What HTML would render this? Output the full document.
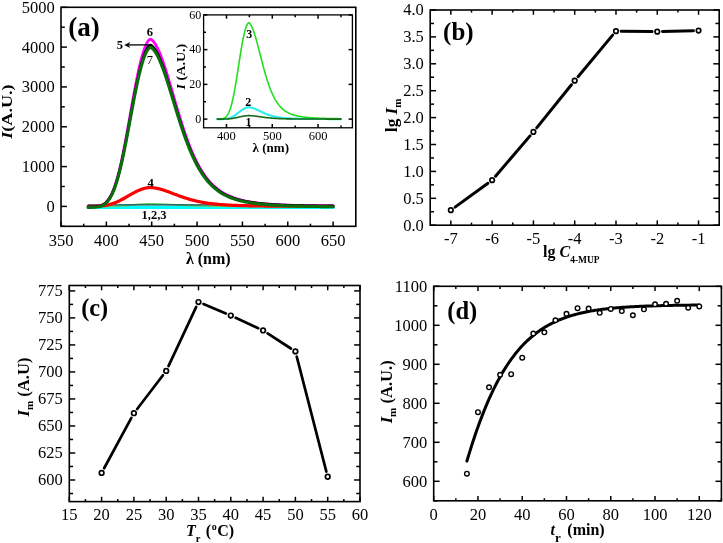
<!DOCTYPE html>
<html><head><meta charset="utf-8"><style>
html,body{margin:0;padding:0;background:#fff;}
svg{display:block;will-change:transform;font-family:"Liberation Serif",serif;}
</style></head><body>
<svg width="723" height="543" viewBox="0 0 723 543">
<rect width="723" height="543" fill="#fff"/>
<polyline points="88.21,207.4 88.66,207.4 89.11,207.4 89.56,207.4 90.01,207.4 90.46,207.4 90.91,207.4 91.36,207.4 91.81,207.4 92.26,207.4 92.72,207.4 93.17,207.4 93.62,207.4 94.07,207.4 94.52,207.4 94.97,207.4 95.42,207.4 95.87,207.4 96.32,207.4 96.77,207.4 97.22,207.4 97.67,207.4 98.12,207.4 98.57,207.4 99.02,207.4 99.47,207.4 99.92,207.4 100.37,207.4 100.82,207.4 101.27,207.4 101.72,207.4 102.17,207.4 102.62,207.4 103.07,207.4 103.52,207.4 103.97,207.4 104.42,207.4 104.87,207.4 105.32,207.4 105.77,207.4 106.22,207.4 106.67,207.4 107.12,207.4 107.57,207.4 108.02,207.4 108.47,207.4 108.92,207.4 109.38,207.4 109.83,207.4 110.28,207.4 110.73,207.4 111.18,207.4 111.63,207.4 112.08,207.4 112.53,207.4 112.98,207.4 113.43,207.4 113.88,207.4 114.33,207.4 114.78,207.4 115.23,207.4 115.68,207.4 116.13,207.4 116.58,207.4 117.03,207.4 117.48,207.4 117.93,207.4 118.38,207.4 118.83,207.4 119.28,207.4 119.73,207.4 120.18,207.4 120.63,207.4 121.08,207.4 121.53,207.4 121.98,207.4 122.43,207.4 122.88,207.4 123.33,207.4 123.78,207.4 124.23,207.4 124.68,207.4 125.13,207.4 125.59,207.4 126.04,207.4 126.49,207.4 126.94,207.4 127.39,207.4 127.84,207.4 128.29,207.4 128.74,207.4 129.19,207.4 129.64,207.4 130.09,207.4 130.54,207.4 130.99,207.4 131.44,207.4 131.89,207.4 132.34,207.4 132.79,207.4 133.24,207.4 133.69,207.4 134.14,207.4 134.59,207.4 135.04,207.4 135.49,207.4 135.94,207.4 136.39,207.4 136.84,207.4 137.29,207.4 137.74,207.4 138.19,207.4 138.64,207.4 139.09,207.4 139.54,207.4 139.99,207.4 140.44,207.4 140.89,207.4 141.34,207.4 141.8,207.4 142.25,207.4 142.7,207.4 143.15,207.4 143.6,207.4 144.05,207.4 144.5,207.4 144.95,207.4 145.4,207.4 145.85,207.4 146.3,207.4 146.75,207.4 147.2,207.4 147.65,207.4 148.1,207.4 148.55,207.4 149,207.4 149.45,207.4 149.9,207.4 150.35,207.4 150.8,207.4 151.41,207.4 152.02,207.4 152.63,207.4 153.24,207.4 153.85,207.4 154.46,207.4 155.07,207.4 155.68,207.4 156.29,207.4 156.9,207.4 157.51,207.4 158.12,207.4 158.73,207.4 159.34,207.4 159.95,207.4 160.56,207.4 161.17,207.4 161.78,207.4 162.39,207.4 163,207.4 163.61,207.4 164.22,207.4 164.83,207.4 165.44,207.4 166.04,207.4 166.65,207.4 167.26,207.4 167.87,207.4 168.48,207.4 169.09,207.4 169.7,207.4 170.31,207.4 170.92,207.4 171.53,207.4 172.14,207.4 172.75,207.4 173.36,207.4 173.97,207.4 174.58,207.4 175.19,207.4 175.8,207.4 176.41,207.4 177.02,207.4 177.63,207.4 178.24,207.4 178.85,207.4 179.46,207.4 180.07,207.4 180.68,207.4 181.29,207.4 181.9,207.4 182.51,207.4 183.12,207.4 183.73,207.4 184.34,207.4 184.95,207.4 185.56,207.4 186.17,207.4 186.78,207.4 187.39,207.4 188,207.4 188.61,207.4 189.22,207.4 189.83,207.4 190.44,207.4 191.05,207.4 191.66,207.4 192.27,207.4 192.88,207.4 193.48,207.4 194.09,207.4 194.7,207.4 195.31,207.4 195.92,207.4 196.53,207.4 197.14,207.4 197.75,207.4 198.36,207.4 198.97,207.4 199.58,207.4 200.19,207.4 200.8,207.4 201.41,207.4 202.02,207.4 202.63,207.4 203.24,207.4 203.85,207.4 204.46,207.4 205.07,207.4 205.68,207.4 206.29,207.4 206.9,207.4 207.51,207.4 208.12,207.4 208.73,207.4 209.34,207.4 209.95,207.4 210.56,207.4 211.17,207.4 211.78,207.4 212.39,207.4 213,207.4 213.61,207.4 214.22,207.4 214.83,207.4 215.44,207.4 216.05,207.4 216.66,207.4 217.27,207.4 217.88,207.4 218.49,207.4 219.1,207.4 219.71,207.4 220.31,207.4 220.92,207.4 221.53,207.4 222.14,207.4 222.75,207.4 223.36,207.4 223.97,207.4 224.58,207.4 225.19,207.4 225.8,207.4 226.41,207.4 227.02,207.4 227.63,207.4 228.24,207.4 228.85,207.4 229.46,207.4 230.07,207.4 230.68,207.4 231.29,207.4 231.9,207.4 232.51,207.4 233.12,207.4 233.73,207.4 234.34,207.4 234.95,207.4 235.56,207.4 236.17,207.4 236.78,207.4 237.39,207.4 238,207.4 238.61,207.4 239.22,207.4 239.83,207.4 240.44,207.4 241.05,207.4 241.66,207.4 242.27,207.4 242.88,207.4 243.49,207.4 244.1,207.4 244.71,207.4 245.32,207.4 245.93,207.4 246.54,207.4 247.14,207.4 247.75,207.4 248.36,207.4 248.97,207.4 249.58,207.4 250.19,207.4 250.8,207.4 251.41,207.4 252.02,207.4 252.63,207.4 253.24,207.4 253.85,207.4 254.46,207.4 255.07,207.4 255.68,207.4 256.29,207.4 256.9,207.4 257.51,207.4 258.12,207.4 258.73,207.4 259.34,207.4 259.95,207.4 260.56,207.4 261.17,207.4 261.78,207.4 262.39,207.4 263,207.4 263.61,207.4 264.22,207.4 264.83,207.4 265.44,207.4 266.05,207.4 266.66,207.4 267.27,207.4 267.88,207.4 268.49,207.4 269.1,207.4 269.71,207.4 270.32,207.4 270.93,207.4 271.54,207.4 272.15,207.4 272.76,207.4 273.37,207.4 273.97,207.4 274.58,207.4 275.19,207.4 275.8,207.4 276.41,207.4 277.02,207.4 277.63,207.4 278.24,207.4 278.85,207.4 279.46,207.4 280.07,207.4 280.68,207.4 281.29,207.4 281.9,207.4 282.51,207.4 283.12,207.4 283.73,207.4 284.34,207.4 284.95,207.4 285.56,207.4 286.17,207.4 286.78,207.4 287.39,207.4 288,207.4 288.61,207.4 289.22,207.4 289.83,207.4 290.44,207.4 291.05,207.4 291.66,207.4 292.27,207.4 292.88,207.4 293.49,207.4 294.1,207.4 294.71,207.4 295.32,207.4 295.93,207.4 296.54,207.4 297.15,207.4 297.76,207.4 298.37,207.4 298.98,207.4 299.59,207.4 300.2,207.4 300.81,207.4 301.41,207.4 302.02,207.4 302.63,207.4 303.24,207.4 303.85,207.4 304.46,207.4 305.07,207.4 305.68,207.4 306.29,207.4 306.9,207.4 307.51,207.4 308.12,207.4 308.73,207.4 309.34,207.4 309.95,207.4 310.56,207.4 311.17,207.4 311.78,207.4 312.39,207.4 313,207.4 313.61,207.4 314.22,207.4 314.83,207.4 315.44,207.4 316.05,207.4 316.66,207.4 317.27,207.4 317.88,207.4 318.49,207.4 319.1,207.4 319.71,207.4 320.32,207.4 320.93,207.4 321.54,207.4 322.15,207.4 322.76,207.4 323.37,207.4 323.98,207.4 324.59,207.4 325.2,207.4 325.81,207.4 326.42,207.4 327.03,207.4 327.64,207.4 328.24,207.4 328.85,207.4 329.46,207.4 330.07,207.4 330.68,207.4 331.29,207.4 331.9,207.4 332.51,207.4 333.12,207.4" fill="none" stroke="#00ffff" stroke-width="3.4" stroke-linejoin="round" stroke-linecap="round" />
<polyline points="88.21,206.52 88.66,206.52 89.11,206.52 89.56,206.52 90.01,206.52 90.46,206.52 90.91,206.52 91.36,206.52 91.81,206.52 92.26,206.52 92.72,206.52 93.17,206.52 93.62,206.52 94.07,206.52 94.52,206.52 94.97,206.52 95.42,206.52 95.87,206.51 96.32,206.51 96.77,206.51 97.22,206.51 97.67,206.51 98.12,206.51 98.57,206.51 99.02,206.51 99.47,206.5 99.92,206.5 100.37,206.5 100.82,206.5 101.27,206.5 101.72,206.49 102.17,206.49 102.62,206.49 103.07,206.48 103.52,206.48 103.97,206.47 104.42,206.47 104.87,206.46 105.32,206.46 105.77,206.45 106.22,206.44 106.67,206.44 107.12,206.43 107.57,206.42 108.02,206.41 108.47,206.4 108.92,206.39 109.38,206.38 109.83,206.37 110.28,206.35 110.73,206.34 111.18,206.33 111.63,206.31 112.08,206.3 112.53,206.28 112.98,206.26 113.43,206.24 113.88,206.23 114.33,206.21 114.78,206.19 115.23,206.16 115.68,206.14 116.13,206.12 116.58,206.09 117.03,206.07 117.48,206.04 117.93,206.02 118.38,205.99 118.83,205.96 119.28,205.93 119.73,205.9 120.18,205.87 120.63,205.84 121.08,205.81 121.53,205.77 121.98,205.74 122.43,205.71 122.88,205.67 123.33,205.63 123.78,205.6 124.23,205.56 124.68,205.52 125.13,205.49 125.59,205.45 126.04,205.41 126.49,205.37 126.94,205.33 127.39,205.29 127.84,205.25 128.29,205.21 128.74,205.17 129.19,205.12 129.64,205.08 130.09,205.04 130.54,205 130.99,204.96 131.44,204.92 131.89,204.88 132.34,204.84 132.79,204.8 133.24,204.76 133.69,204.72 134.14,204.68 134.59,204.64 135.04,204.6 135.49,204.56 135.94,204.52 136.39,204.49 136.84,204.45 137.29,204.41 137.74,204.38 138.19,204.35 138.64,204.31 139.09,204.28 139.54,204.25 139.99,204.22 140.44,204.19 140.89,204.16 141.34,204.13 141.8,204.1 142.25,204.08 142.7,204.05 143.15,204.03 143.6,204.01 144.05,203.98 144.5,203.96 144.95,203.94 145.4,203.93 145.85,203.91 146.3,203.89 146.75,203.88 147.2,203.87 147.65,203.85 148.1,203.84 148.55,203.83 149,203.83 149.45,203.82 149.9,203.82 150.35,203.81 150.8,203.81 151.41,203.82 152.02,203.83 152.63,203.84 153.24,203.85 153.85,203.86 154.46,203.87 155.07,203.89 155.68,203.9 156.29,203.92 156.9,203.94 157.51,203.96 158.12,203.98 158.73,204 159.34,204.02 159.95,204.04 160.56,204.07 161.17,204.09 161.78,204.12 162.39,204.15 163,204.18 163.61,204.2 164.22,204.23 164.83,204.26 165.44,204.29 166.04,204.32 166.65,204.36 167.26,204.39 167.87,204.42 168.48,204.45 169.09,204.49 169.7,204.52 170.31,204.55 170.92,204.59 171.53,204.62 172.14,204.65 172.75,204.69 173.36,204.72 173.97,204.76 174.58,204.79 175.19,204.82 175.8,204.86 176.41,204.89 177.02,204.92 177.63,204.96 178.24,204.99 178.85,205.02 179.46,205.05 180.07,205.09 180.68,205.12 181.29,205.15 181.9,205.18 182.51,205.21 183.12,205.24 183.73,205.27 184.34,205.3 184.95,205.33 185.56,205.36 186.17,205.39 186.78,205.41 187.39,205.44 188,205.47 188.61,205.49 189.22,205.52 189.83,205.55 190.44,205.57 191.05,205.59 191.66,205.62 192.27,205.64 192.88,205.66 193.48,205.69 194.09,205.71 194.7,205.73 195.31,205.75 195.92,205.77 196.53,205.79 197.14,205.81 197.75,205.83 198.36,205.85 198.97,205.86 199.58,205.88 200.19,205.9 200.8,205.92 201.41,205.93 202.02,205.95 202.63,205.96 203.24,205.98 203.85,205.99 204.46,206.01 205.07,206.02 205.68,206.03 206.29,206.05 206.9,206.06 207.51,206.07 208.12,206.09 208.73,206.1 209.34,206.11 209.95,206.12 210.56,206.13 211.17,206.14 211.78,206.15 212.39,206.16 213,206.17 213.61,206.18 214.22,206.19 214.83,206.2 215.44,206.21 216.05,206.21 216.66,206.22 217.27,206.23 217.88,206.24 218.49,206.25 219.1,206.25 219.71,206.26 220.31,206.27 220.92,206.27 221.53,206.28 222.14,206.29 222.75,206.29 223.36,206.3 223.97,206.3 224.58,206.31 225.19,206.31 225.8,206.32 226.41,206.32 227.02,206.33 227.63,206.33 228.24,206.34 228.85,206.34 229.46,206.35 230.07,206.35 230.68,206.36 231.29,206.36 231.9,206.36 232.51,206.37 233.12,206.37 233.73,206.37 234.34,206.38 234.95,206.38 235.56,206.38 236.17,206.39 236.78,206.39 237.39,206.39 238,206.4 238.61,206.4 239.22,206.4 239.83,206.41 240.44,206.41 241.05,206.41 241.66,206.41 242.27,206.42 242.88,206.42 243.49,206.42 244.1,206.42 244.71,206.42 245.32,206.43 245.93,206.43 246.54,206.43 247.14,206.43 247.75,206.43 248.36,206.44 248.97,206.44 249.58,206.44 250.19,206.44 250.8,206.44 251.41,206.44 252.02,206.45 252.63,206.45 253.24,206.45 253.85,206.45 254.46,206.45 255.07,206.45 255.68,206.45 256.29,206.46 256.9,206.46 257.51,206.46 258.12,206.46 258.73,206.46 259.34,206.46 259.95,206.46 260.56,206.46 261.17,206.46 261.78,206.47 262.39,206.47 263,206.47 263.61,206.47 264.22,206.47 264.83,206.47 265.44,206.47 266.05,206.47 266.66,206.47 267.27,206.47 267.88,206.47 268.49,206.48 269.1,206.48 269.71,206.48 270.32,206.48 270.93,206.48 271.54,206.48 272.15,206.48 272.76,206.48 273.37,206.48 273.97,206.48 274.58,206.48 275.19,206.48 275.8,206.48 276.41,206.48 277.02,206.48 277.63,206.49 278.24,206.49 278.85,206.49 279.46,206.49 280.07,206.49 280.68,206.49 281.29,206.49 281.9,206.49 282.51,206.49 283.12,206.49 283.73,206.49 284.34,206.49 284.95,206.49 285.56,206.49 286.17,206.49 286.78,206.49 287.39,206.49 288,206.49 288.61,206.49 289.22,206.49 289.83,206.49 290.44,206.49 291.05,206.49 291.66,206.5 292.27,206.5 292.88,206.5 293.49,206.5 294.1,206.5 294.71,206.5 295.32,206.5 295.93,206.5 296.54,206.5 297.15,206.5 297.76,206.5 298.37,206.5 298.98,206.5 299.59,206.5 300.2,206.5 300.81,206.5 301.41,206.5 302.02,206.5 302.63,206.5 303.24,206.5 303.85,206.5 304.46,206.5 305.07,206.5 305.68,206.5 306.29,206.5 306.9,206.5 307.51,206.5 308.12,206.5 308.73,206.5 309.34,206.5 309.95,206.5 310.56,206.5 311.17,206.5 311.78,206.5 312.39,206.5 313,206.5 313.61,206.5 314.22,206.5 314.83,206.5 315.44,206.5 316.05,206.5 316.66,206.5 317.27,206.5 317.88,206.51 318.49,206.51 319.1,206.51 319.71,206.51 320.32,206.51 320.93,206.51 321.54,206.51 322.15,206.51 322.76,206.51 323.37,206.51 323.98,206.51 324.59,206.51 325.2,206.51 325.81,206.51 326.42,206.51 327.03,206.51 327.64,206.51 328.24,206.51 328.85,206.51 329.46,206.51 330.07,206.51 330.68,206.51 331.29,206.51 331.9,206.51 332.51,206.51 333.12,206.51" fill="none" stroke="#5fcf5f" stroke-width="1.6" stroke-linejoin="round" stroke-linecap="round" />
<polyline points="88.21,204.93 88.66,204.93 89.11,204.93 89.56,204.93 90.01,204.93 90.46,204.93 90.91,204.93 91.36,204.93 91.81,204.93 92.26,204.93 92.72,204.93 93.17,204.93 93.62,204.93 94.07,204.93 94.52,204.93 94.97,204.93 95.42,204.93 95.87,204.93 96.32,204.93 96.77,204.93 97.22,204.93 97.67,204.93 98.12,204.93 98.57,204.93 99.02,204.93 99.47,204.93 99.92,204.93 100.37,204.93 100.82,204.93 101.27,204.93 101.72,204.93 102.17,204.93 102.62,204.93 103.07,204.93 103.52,204.93 103.97,204.93 104.42,204.93 104.87,204.93 105.32,204.93 105.77,204.93 106.22,204.93 106.67,204.93 107.12,204.93 107.57,204.93 108.02,204.93 108.47,204.93 108.92,204.93 109.38,204.93 109.83,204.93 110.28,204.93 110.73,204.93 111.18,204.93 111.63,204.93 112.08,204.93 112.53,204.93 112.98,204.93 113.43,204.93 113.88,204.93 114.33,204.93 114.78,204.93 115.23,204.93 115.68,204.93 116.13,204.93 116.58,204.93 117.03,204.93 117.48,204.93 117.93,204.93 118.38,204.93 118.83,204.93 119.28,204.93 119.73,204.93 120.18,204.93 120.63,204.93 121.08,204.93 121.53,204.93 121.98,204.93 122.43,204.93 122.88,204.93 123.33,204.93 123.78,204.93 124.23,204.93 124.68,204.93 125.13,204.93 125.59,204.93 126.04,204.93 126.49,204.93 126.94,204.93 127.39,204.93 127.84,204.93 128.29,204.93 128.74,204.93 129.19,204.93 129.64,204.93 130.09,204.93 130.54,204.93 130.99,204.93 131.44,204.93 131.89,204.93 132.34,204.93 132.79,204.93 133.24,204.93 133.69,204.93 134.14,204.93 134.59,204.93 135.04,204.93 135.49,204.93 135.94,204.93 136.39,204.93 136.84,204.93 137.29,204.93 137.74,204.93 138.19,204.93 138.64,204.93 139.09,204.93 139.54,204.93 139.99,204.93 140.44,204.93 140.89,204.93 141.34,204.93 141.8,204.93 142.25,204.93 142.7,204.93 143.15,204.93 143.6,204.93 144.05,204.93 144.5,204.93 144.95,204.93 145.4,204.93 145.85,204.93 146.3,204.93 146.75,204.93 147.2,204.93 147.65,204.93 148.1,204.93 148.55,204.93 149,204.93 149.45,204.93 149.9,204.93 150.35,204.93 150.8,204.93 151.41,204.93 152.02,204.93 152.63,204.93 153.24,204.93 153.85,204.93 154.46,204.93 155.07,204.93 155.68,204.93 156.29,204.93 156.9,204.93 157.51,204.93 158.12,204.93 158.73,204.93 159.34,204.93 159.95,204.93 160.56,204.93 161.17,204.93 161.78,204.93 162.39,204.93 163,204.93 163.61,204.93 164.22,204.93 164.83,204.93 165.44,204.93 166.04,204.93 166.65,204.93 167.26,204.93 167.87,204.93 168.48,204.93 169.09,204.93 169.7,204.93 170.31,204.93 170.92,204.93 171.53,204.93 172.14,204.93 172.75,204.93 173.36,204.93 173.97,204.93 174.58,204.93 175.19,204.93 175.8,204.93 176.41,204.93 177.02,204.93 177.63,204.93 178.24,204.93 178.85,204.93 179.46,204.93 180.07,204.93 180.68,204.93 181.29,204.93 181.9,204.93 182.51,204.93 183.12,204.93 183.73,204.93 184.34,204.93 184.95,204.93 185.56,204.93 186.17,204.93 186.78,204.93 187.39,204.93 188,204.93 188.61,204.93 189.22,204.93 189.83,204.93 190.44,204.93 191.05,204.93 191.66,204.93 192.27,204.93 192.88,204.93 193.48,204.93 194.09,204.93 194.7,204.93 195.31,204.93 195.92,204.93 196.53,204.93 197.14,204.93 197.75,204.93 198.36,204.93 198.97,204.93 199.58,204.93 200.19,204.93 200.8,204.93 201.41,204.93 202.02,204.93 202.63,204.93 203.24,204.93 203.85,204.93 204.46,204.93 205.07,204.93 205.68,204.93 206.29,204.93 206.9,204.93 207.51,204.93 208.12,204.93 208.73,204.93 209.34,204.93 209.95,204.93 210.56,204.93 211.17,204.93 211.78,204.93 212.39,204.93 213,204.93 213.61,204.93 214.22,204.93 214.83,204.93 215.44,204.93 216.05,204.93 216.66,204.93 217.27,204.93 217.88,204.93 218.49,204.93 219.1,204.93 219.71,204.93 220.31,204.93 220.92,204.93 221.53,204.93 222.14,204.93 222.75,204.93 223.36,204.93 223.97,204.93 224.58,204.93 225.19,204.93 225.8,204.93 226.41,204.93 227.02,204.93 227.63,204.93 228.24,204.93 228.85,204.93 229.46,204.93 230.07,204.93 230.68,204.93 231.29,204.93 231.9,204.93 232.51,204.93 233.12,204.93 233.73,204.93 234.34,204.93 234.95,204.93 235.56,204.93 236.17,204.93 236.78,204.93 237.39,204.93 238,204.93 238.61,204.93 239.22,204.93 239.83,204.93 240.44,204.93 241.05,204.93 241.66,204.93 242.27,204.93 242.88,204.93 243.49,204.93 244.1,204.93 244.71,204.93 245.32,204.93 245.93,204.93 246.54,204.93 247.14,204.93 247.75,204.93 248.36,204.93 248.97,204.93 249.58,204.93 250.19,204.93 250.8,204.93 251.41,204.93 252.02,204.93 252.63,204.93 253.24,204.93 253.85,204.93 254.46,204.93 255.07,204.93 255.68,204.93 256.29,204.93 256.9,204.93 257.51,204.93 258.12,204.93 258.73,204.93 259.34,204.93 259.95,204.93 260.56,204.93 261.17,204.93 261.78,204.93 262.39,204.93 263,204.93 263.61,204.93 264.22,204.93 264.83,204.93 265.44,204.93 266.05,204.93 266.66,204.93 267.27,204.93 267.88,204.93 268.49,204.93 269.1,204.93 269.71,204.93 270.32,204.93 270.93,204.93 271.54,204.93 272.15,204.93 272.76,204.93 273.37,204.93 273.97,204.93 274.58,204.93 275.19,204.93 275.8,204.93 276.41,204.93 277.02,204.93 277.63,204.93 278.24,204.93 278.85,204.93 279.46,204.93 280.07,204.93 280.68,204.93 281.29,204.93 281.9,204.93 282.51,204.93 283.12,204.93 283.73,204.93 284.34,204.93 284.95,204.93 285.56,204.93 286.17,204.93 286.78,204.93 287.39,204.93 288,204.93 288.61,204.93 289.22,204.93 289.83,204.93 290.44,204.93 291.05,204.93 291.66,204.93 292.27,204.93 292.88,204.93 293.49,204.93 294.1,204.93 294.71,204.93 295.32,204.93 295.93,204.93 296.54,204.93 297.15,204.93 297.76,204.93 298.37,204.93 298.98,204.93 299.59,204.93 300.2,204.93 300.81,204.93 301.41,204.93 302.02,204.93 302.63,204.93 303.24,204.93 303.85,204.93 304.46,204.93 305.07,204.93 305.68,204.93 306.29,204.93 306.9,204.93 307.51,204.93 308.12,204.93 308.73,204.93 309.34,204.93 309.95,204.93 310.56,204.93 311.17,204.93 311.78,204.93 312.39,204.93 313,204.93 313.61,204.93 314.22,204.93 314.83,204.93 315.44,204.93 316.05,204.93 316.66,204.93 317.27,204.93 317.88,204.93 318.49,204.93 319.1,204.93 319.71,204.93 320.32,204.93 320.93,204.93 321.54,204.93 322.15,204.93 322.76,204.93 323.37,204.93 323.98,204.93 324.59,204.93 325.2,204.93 325.81,204.93 326.42,204.93 327.03,204.93 327.64,204.93 328.24,204.93 328.85,204.93 329.46,204.93 330.07,204.93 330.68,204.93 331.29,204.93 331.9,204.93 332.51,204.93 333.12,204.93" fill="none" stroke="#0d4f55" stroke-width="1.3" stroke-linejoin="round" stroke-linecap="round" />
<polyline points="88.21,206.38 88.66,206.38 89.11,206.38 89.56,206.37 90.01,206.37 90.46,206.37 90.91,206.36 91.36,206.35 91.81,206.35 92.26,206.34 92.72,206.33 93.17,206.32 93.62,206.31 94.07,206.3 94.52,206.29 94.97,206.28 95.42,206.26 95.87,206.25 96.32,206.23 96.77,206.21 97.22,206.19 97.67,206.17 98.12,206.15 98.57,206.12 99.02,206.09 99.47,206.06 99.92,206.03 100.37,205.99 100.82,205.95 101.27,205.91 101.72,205.87 102.17,205.82 102.62,205.77 103.07,205.72 103.52,205.66 103.97,205.6 104.42,205.54 104.87,205.47 105.32,205.4 105.77,205.32 106.22,205.24 106.67,205.16 107.12,205.07 107.57,204.98 108.02,204.88 108.47,204.78 108.92,204.67 109.38,204.56 109.83,204.45 110.28,204.33 110.73,204.2 111.18,204.07 111.63,203.93 112.08,203.79 112.53,203.65 112.98,203.5 113.43,203.34 113.88,203.18 114.33,203.01 114.78,202.84 115.23,202.67 115.68,202.49 116.13,202.3 116.58,202.11 117.03,201.91 117.48,201.71 117.93,201.51 118.38,201.3 118.83,201.09 119.28,200.87 119.73,200.65 120.18,200.42 120.63,200.2 121.08,199.96 121.53,199.73 121.98,199.49 122.43,199.25 122.88,199 123.33,198.75 123.78,198.51 124.23,198.25 124.68,198 125.13,197.74 125.59,197.49 126.04,197.23 126.49,196.97 126.94,196.71 127.39,196.45 127.84,196.18 128.29,195.92 128.74,195.66 129.19,195.4 129.64,195.14 130.09,194.88 130.54,194.62 130.99,194.37 131.44,194.11 131.89,193.86 132.34,193.61 132.79,193.36 133.24,193.11 133.69,192.87 134.14,192.63 134.59,192.39 135.04,192.15 135.49,191.92 135.94,191.7 136.39,191.48 136.84,191.26 137.29,191.04 137.74,190.84 138.19,190.63 138.64,190.43 139.09,190.24 139.54,190.05 139.99,189.87 140.44,189.69 140.89,189.52 141.34,189.35 141.8,189.2 142.25,189.04 142.7,188.9 143.15,188.75 143.6,188.62 144.05,188.49 144.5,188.37 144.95,188.26 145.4,188.15 145.85,188.05 146.3,187.96 146.75,187.87 147.2,187.8 147.65,187.73 148.1,187.67 148.55,187.61 149,187.57 149.45,187.53 149.9,187.51 150.35,187.49 150.8,187.49 151.41,187.53 152.02,187.59 152.63,187.65 153.24,187.72 153.85,187.8 154.46,187.89 155.07,187.99 155.68,188.1 156.29,188.21 156.9,188.34 157.51,188.47 158.12,188.61 158.73,188.75 159.34,188.9 159.95,189.06 160.56,189.23 161.17,189.4 161.78,189.58 162.39,189.76 163,189.95 163.61,190.14 164.22,190.34 164.83,190.54 165.44,190.75 166.04,190.96 166.65,191.17 167.26,191.39 167.87,191.61 168.48,191.83 169.09,192.06 169.7,192.28 170.31,192.51 170.92,192.74 171.53,192.97 172.14,193.2 172.75,193.44 173.36,193.67 173.97,193.9 174.58,194.13 175.19,194.37 175.8,194.6 176.41,194.83 177.02,195.06 177.63,195.29 178.24,195.51 178.85,195.74 179.46,195.96 180.07,196.18 180.68,196.4 181.29,196.62 181.9,196.83 182.51,197.05 183.12,197.26 183.73,197.46 184.34,197.67 184.95,197.87 185.56,198.07 186.17,198.26 186.78,198.46 187.39,198.65 188,198.83 188.61,199.02 189.22,199.2 189.83,199.37 190.44,199.55 191.05,199.72 191.66,199.88 192.27,200.05 192.88,200.21 193.48,200.36 194.09,200.52 194.7,200.67 195.31,200.81 195.92,200.96 196.53,201.1 197.14,201.24 197.75,201.37 198.36,201.5 198.97,201.63 199.58,201.75 200.19,201.88 200.8,202 201.41,202.11 202.02,202.22 202.63,202.33 203.24,202.44 203.85,202.55 204.46,202.65 205.07,202.75 205.68,202.85 206.29,202.94 206.9,203.03 207.51,203.12 208.12,203.21 208.73,203.29 209.34,203.37 209.95,203.46 210.56,203.53 211.17,203.61 211.78,203.68 212.39,203.75 213,203.82 213.61,203.89 214.22,203.96 214.83,204.02 215.44,204.08 216.05,204.14 216.66,204.2 217.27,204.26 217.88,204.32 218.49,204.37 219.1,204.42 219.71,204.47 220.31,204.52 220.92,204.57 221.53,204.62 222.14,204.66 222.75,204.71 223.36,204.75 223.97,204.79 224.58,204.83 225.19,204.87 225.8,204.91 226.41,204.95 227.02,204.98 227.63,205.02 228.24,205.05 228.85,205.09 229.46,205.12 230.07,205.15 230.68,205.18 231.29,205.21 231.9,205.24 232.51,205.27 233.12,205.29 233.73,205.32 234.34,205.35 234.95,205.37 235.56,205.39 236.17,205.42 236.78,205.44 237.39,205.46 238,205.48 238.61,205.51 239.22,205.53 239.83,205.55 240.44,205.57 241.05,205.58 241.66,205.6 242.27,205.62 242.88,205.64 243.49,205.65 244.1,205.67 244.71,205.69 245.32,205.7 245.93,205.72 246.54,205.73 247.14,205.75 247.75,205.76 248.36,205.77 248.97,205.79 249.58,205.8 250.19,205.81 250.8,205.82 251.41,205.84 252.02,205.85 252.63,205.86 253.24,205.87 253.85,205.88 254.46,205.89 255.07,205.9 255.68,205.91 256.29,205.92 256.9,205.93 257.51,205.94 258.12,205.95 258.73,205.96 259.34,205.97 259.95,205.97 260.56,205.98 261.17,205.99 261.78,206 262.39,206 263,206.01 263.61,206.02 264.22,206.03 264.83,206.03 265.44,206.04 266.05,206.05 266.66,206.05 267.27,206.06 267.88,206.06 268.49,206.07 269.1,206.08 269.71,206.08 270.32,206.09 270.93,206.09 271.54,206.1 272.15,206.1 272.76,206.11 273.37,206.11 273.97,206.12 274.58,206.12 275.19,206.13 275.8,206.13 276.41,206.14 277.02,206.14 277.63,206.14 278.24,206.15 278.85,206.15 279.46,206.16 280.07,206.16 280.68,206.16 281.29,206.17 281.9,206.17 282.51,206.17 283.12,206.18 283.73,206.18 284.34,206.18 284.95,206.19 285.56,206.19 286.17,206.19 286.78,206.2 287.39,206.2 288,206.2 288.61,206.21 289.22,206.21 289.83,206.21 290.44,206.21 291.05,206.22 291.66,206.22 292.27,206.22 292.88,206.22 293.49,206.23 294.1,206.23 294.71,206.23 295.32,206.23 295.93,206.24 296.54,206.24 297.15,206.24 297.76,206.24 298.37,206.24 298.98,206.25 299.59,206.25 300.2,206.25 300.81,206.25 301.41,206.25 302.02,206.26 302.63,206.26 303.24,206.26 303.85,206.26 304.46,206.26 305.07,206.26 305.68,206.27 306.29,206.27 306.9,206.27 307.51,206.27 308.12,206.27 308.73,206.27 309.34,206.28 309.95,206.28 310.56,206.28 311.17,206.28 311.78,206.28 312.39,206.28 313,206.28 313.61,206.29 314.22,206.29 314.83,206.29 315.44,206.29 316.05,206.29 316.66,206.29 317.27,206.29 317.88,206.29 318.49,206.3 319.1,206.3 319.71,206.3 320.32,206.3 320.93,206.3 321.54,206.3 322.15,206.3 322.76,206.3 323.37,206.3 323.98,206.3 324.59,206.31 325.2,206.31 325.81,206.31 326.42,206.31 327.03,206.31 327.64,206.31 328.24,206.31 328.85,206.31 329.46,206.31 330.07,206.31 330.68,206.31 331.29,206.32 331.9,206.32 332.51,206.32 333.12,206.32" fill="none" stroke="#ff0000" stroke-width="3.2" stroke-linejoin="round" stroke-linecap="round" />
<polyline points="88.21,206.78 88.66,206.78 89.11,206.78 89.56,206.77 90.01,206.77 90.46,206.76 90.91,206.75 91.36,206.74 91.81,206.73 92.26,206.72 92.72,206.7 93.17,206.68 93.62,206.66 94.07,206.64 94.52,206.61 94.97,206.58 95.42,206.54 95.87,206.5 96.32,206.45 96.77,206.4 97.22,206.33 97.67,206.26 98.12,206.18 98.57,206.1 99.02,206 99.47,205.89 99.92,205.76 100.37,205.63 100.82,205.48 101.27,205.31 101.72,205.12 102.17,204.92 102.62,204.7 103.07,204.46 103.52,204.19 103.97,203.9 104.42,203.59 104.87,203.25 105.32,202.88 105.77,202.48 106.22,202.05 106.67,201.59 107.12,201.1 107.57,200.56 108.02,200 108.47,199.39 108.92,198.74 109.38,198.06 109.83,197.33 110.28,196.55 110.73,195.73 111.18,194.87 111.63,193.96 112.08,192.99 112.53,191.98 112.98,190.92 113.43,189.81 113.88,188.64 114.33,187.42 114.78,186.15 115.23,184.82 115.68,183.45 116.13,182.01 116.58,180.52 117.03,178.98 117.48,177.39 117.93,175.74 118.38,174.03 118.83,172.28 119.28,170.47 119.73,168.61 120.18,166.7 120.63,164.74 121.08,162.73 121.53,160.68 121.98,158.58 122.43,156.44 122.88,154.25 123.33,152.03 123.78,149.77 124.23,147.47 124.68,145.13 125.13,142.77 125.59,140.37 126.04,137.95 126.49,135.5 126.94,133.03 127.39,130.55 127.84,128.04 128.29,125.52 128.74,122.99 129.19,120.45 129.64,117.9 130.09,115.35 130.54,112.8 130.99,110.26 131.44,107.72 131.89,105.19 132.34,102.67 132.79,100.16 133.24,97.67 133.69,95.21 134.14,92.76 134.59,90.34 135.04,87.95 135.49,85.59 135.94,83.27 136.39,80.98 136.84,78.73 137.29,76.52 137.74,74.36 138.19,72.24 138.64,70.18 139.09,68.16 139.54,66.19 139.99,64.28 140.44,62.43 140.89,60.63 141.34,58.9 141.8,57.22 142.25,55.62 142.7,54.07 143.15,52.59 143.6,51.18 144.05,49.84 144.5,48.57 144.95,47.37 145.4,46.25 145.85,45.2 146.3,44.22 146.75,43.32 147.2,42.5 147.65,41.77 148.1,41.11 148.55,40.55 149,40.07 149.45,39.7 149.9,39.42 150.35,39.25 150.8,39.2 151.41,39.61 152.02,40.1 152.63,40.68 153.24,41.35 153.85,42.09 154.46,42.91 155.07,43.81 155.68,44.79 156.29,45.84 156.9,46.97 157.51,48.16 158.12,49.43 158.73,50.76 159.34,52.15 159.95,53.61 160.56,55.12 161.17,56.69 161.78,58.31 162.39,59.99 163,61.71 163.61,63.47 164.22,65.28 164.83,67.13 165.44,69.01 166.04,70.93 166.65,72.88 167.26,74.85 167.87,76.85 168.48,78.87 169.09,80.91 169.7,82.97 170.31,85.04 170.92,87.12 171.53,89.21 172.14,91.31 172.75,93.41 173.36,95.51 173.97,97.61 174.58,99.71 175.19,101.8 175.8,103.89 176.41,105.97 177.02,108.03 177.63,110.08 178.24,112.12 178.85,114.14 179.46,116.14 180.07,118.13 180.68,120.09 181.29,122.04 181.9,123.96 182.51,125.85 183.12,127.73 183.73,129.57 184.34,131.39 184.95,133.18 185.56,134.95 186.17,136.69 186.78,138.4 187.39,140.07 188,141.72 188.61,143.34 189.22,144.93 189.83,146.49 190.44,148.02 191.05,149.52 191.66,150.99 192.27,152.42 192.88,153.83 193.48,155.21 194.09,156.55 194.7,157.87 195.31,159.15 195.92,160.41 196.53,161.64 197.14,162.84 197.75,164.01 198.36,165.15 198.97,166.26 199.58,167.35 200.19,168.41 200.8,169.44 201.41,170.45 202.02,171.43 202.63,172.38 203.24,173.31 203.85,174.22 204.46,175.1 205.07,175.95 205.68,176.79 206.29,177.6 206.9,178.39 207.51,179.16 208.12,179.91 208.73,180.63 209.34,181.34 209.95,182.03 210.56,182.69 211.17,183.34 211.78,183.97 212.39,184.59 213,185.18 213.61,185.76 214.22,186.32 214.83,186.87 215.44,187.4 216.05,187.91 216.66,188.41 217.27,188.9 217.88,189.37 218.49,189.83 219.1,190.28 219.71,190.71 220.31,191.13 220.92,191.53 221.53,191.93 222.14,192.31 222.75,192.69 223.36,193.05 223.97,193.4 224.58,193.74 225.19,194.08 225.8,194.4 226.41,194.71 227.02,195.01 227.63,195.31 228.24,195.59 228.85,195.87 229.46,196.14 230.07,196.41 230.68,196.66 231.29,196.91 231.9,197.15 232.51,197.38 233.12,197.61 233.73,197.83 234.34,198.04 234.95,198.25 235.56,198.45 236.17,198.65 236.78,198.84 237.39,199.03 238,199.21 238.61,199.38 239.22,199.55 239.83,199.72 240.44,199.88 241.05,200.04 241.66,200.19 242.27,200.34 242.88,200.48 243.49,200.62 244.1,200.76 244.71,200.89 245.32,201.02 245.93,201.14 246.54,201.27 247.14,201.38 247.75,201.5 248.36,201.61 248.97,201.72 249.58,201.83 250.19,201.93 250.8,202.03 251.41,202.13 252.02,202.23 252.63,202.32 253.24,202.41 253.85,202.5 254.46,202.59 255.07,202.67 255.68,202.75 256.29,202.83 256.9,202.91 257.51,202.98 258.12,203.06 258.73,203.13 259.34,203.2 259.95,203.27 260.56,203.34 261.17,203.4 261.78,203.46 262.39,203.53 263,203.59 263.61,203.65 264.22,203.7 264.83,203.76 265.44,203.81 266.05,203.87 266.66,203.92 267.27,203.97 267.88,204.02 268.49,204.07 269.1,204.12 269.71,204.16 270.32,204.21 270.93,204.25 271.54,204.3 272.15,204.34 272.76,204.38 273.37,204.42 273.97,204.46 274.58,204.5 275.19,204.53 275.8,204.57 276.41,204.61 277.02,204.64 277.63,204.68 278.24,204.71 278.85,204.74 279.46,204.78 280.07,204.81 280.68,204.84 281.29,204.87 281.9,204.9 282.51,204.93 283.12,204.96 283.73,204.98 284.34,205.01 284.95,205.04 285.56,205.06 286.17,205.09 286.78,205.11 287.39,205.14 288,205.16 288.61,205.18 289.22,205.21 289.83,205.23 290.44,205.25 291.05,205.27 291.66,205.29 292.27,205.32 292.88,205.34 293.49,205.36 294.1,205.38 294.71,205.39 295.32,205.41 295.93,205.43 296.54,205.45 297.15,205.47 297.76,205.48 298.37,205.5 298.98,205.52 299.59,205.53 300.2,205.55 300.81,205.57 301.41,205.58 302.02,205.6 302.63,205.61 303.24,205.63 303.85,205.64 304.46,205.66 305.07,205.67 305.68,205.68 306.29,205.7 306.9,205.71 307.51,205.72 308.12,205.74 308.73,205.75 309.34,205.76 309.95,205.77 310.56,205.78 311.17,205.8 311.78,205.81 312.39,205.82 313,205.83 313.61,205.84 314.22,205.85 314.83,205.86 315.44,205.87 316.05,205.88 316.66,205.89 317.27,205.9 317.88,205.91 318.49,205.92 319.1,205.93 319.71,205.94 320.32,205.95 320.93,205.96 321.54,205.97 322.15,205.98 322.76,205.98 323.37,205.99 323.98,206 324.59,206.01 325.2,206.02 325.81,206.02 326.42,206.03 327.03,206.04 327.64,206.05 328.24,206.05 328.85,206.06 329.46,206.07 330.07,206.08 330.68,206.08 331.29,206.09 331.9,206.1 332.51,206.1 333.12,206.11" fill="none" stroke="#ff00ff" stroke-width="2.8" stroke-linejoin="round" stroke-linecap="round" />
<polyline points="88.21,206.79 88.66,206.78 89.11,206.78 89.56,206.77 90.01,206.77 90.46,206.76 90.91,206.75 91.36,206.74 91.81,206.73 92.26,206.72 92.72,206.71 93.17,206.69 93.62,206.67 94.07,206.64 94.52,206.62 94.97,206.59 95.42,206.55 95.87,206.51 96.32,206.46 96.77,206.41 97.22,206.35 97.67,206.28 98.12,206.21 98.57,206.12 99.02,206.02 99.47,205.92 99.92,205.8 100.37,205.67 100.82,205.52 101.27,205.36 101.72,205.18 102.17,204.99 102.62,204.77 103.07,204.54 103.52,204.28 103.97,204 104.42,203.7 104.87,203.37 105.32,203.02 105.77,202.63 106.22,202.22 106.67,201.77 107.12,201.29 107.57,200.78 108.02,200.23 108.47,199.65 108.92,199.02 109.38,198.36 109.83,197.66 110.28,196.91 110.73,196.12 111.18,195.28 111.63,194.4 112.08,193.47 112.53,192.5 112.98,191.47 113.43,190.4 113.88,189.27 114.33,188.09 114.78,186.87 115.23,185.59 115.68,184.26 116.13,182.87 116.58,181.44 117.03,179.95 117.48,178.41 117.93,176.81 118.38,175.17 118.83,173.47 119.28,171.73 119.73,169.93 120.18,168.09 120.63,166.2 121.08,164.26 121.53,162.28 121.98,160.25 122.43,158.19 122.88,156.08 123.33,153.93 123.78,151.74 124.23,149.53 124.68,147.27 125.13,144.99 125.59,142.68 126.04,140.34 126.49,137.98 126.94,135.59 127.39,133.19 127.84,130.77 128.29,128.34 128.74,125.9 129.19,123.44 129.64,120.99 130.09,118.53 130.54,116.06 130.99,113.61 131.44,111.15 131.89,108.71 132.34,106.28 132.79,103.86 133.24,101.46 133.69,99.08 134.14,96.72 134.59,94.38 135.04,92.07 135.49,89.8 135.94,87.55 136.39,85.35 136.84,83.17 137.29,81.04 137.74,78.95 138.19,76.91 138.64,74.91 139.09,72.97 139.54,71.07 139.99,69.23 140.44,67.44 140.89,65.7 141.34,64.03 141.8,62.41 142.25,60.86 142.7,59.37 143.15,57.94 143.6,56.58 144.05,55.29 144.5,54.06 144.95,52.9 145.4,51.82 145.85,50.8 146.3,49.86 146.75,48.99 147.2,48.2 147.65,47.49 148.1,46.86 148.55,46.31 149,45.86 149.45,45.49 149.9,45.23 150.35,45.06 150.8,45.01 151.41,45.41 152.02,45.89 152.63,46.45 153.24,47.08 153.85,47.8 154.46,48.6 155.07,49.47 155.68,50.41 156.29,51.43 156.9,52.51 157.51,53.67 158.12,54.89 158.73,56.17 159.34,57.52 159.95,58.92 160.56,60.38 161.17,61.9 161.78,63.46 162.39,65.08 163,66.74 163.61,68.44 164.22,70.19 164.83,71.97 165.44,73.79 166.04,75.64 166.65,77.52 167.26,79.43 167.87,81.36 168.48,83.31 169.09,85.28 169.7,87.27 170.31,89.26 170.92,91.27 171.53,93.29 172.14,95.32 172.75,97.34 173.36,99.37 173.97,101.4 174.58,103.43 175.19,105.45 175.8,107.46 176.41,109.46 177.02,111.46 177.63,113.44 178.24,115.4 178.85,117.35 179.46,119.29 180.07,121.2 180.68,123.1 181.29,124.98 181.9,126.83 182.51,128.66 183.12,130.47 183.73,132.25 184.34,134.01 184.95,135.74 185.56,137.44 186.17,139.12 186.78,140.77 187.39,142.39 188,143.98 188.61,145.54 189.22,147.08 189.83,148.58 190.44,150.06 191.05,151.51 191.66,152.92 192.27,154.31 192.88,155.67 193.48,157 194.09,158.3 194.7,159.57 195.31,160.81 195.92,162.02 196.53,163.21 197.14,164.36 197.75,165.49 198.36,166.59 198.97,167.67 199.58,168.72 200.19,169.74 200.8,170.74 201.41,171.71 202.02,172.65 202.63,173.57 203.24,174.47 203.85,175.35 204.46,176.2 205.07,177.02 205.68,177.83 206.29,178.61 206.9,179.38 207.51,180.12 208.12,180.84 208.73,181.54 209.34,182.22 209.95,182.89 210.56,183.53 211.17,184.16 211.78,184.77 212.39,185.36 213,185.93 213.61,186.49 214.22,187.03 214.83,187.56 215.44,188.07 216.05,188.57 216.66,189.05 217.27,189.52 217.88,189.98 218.49,190.42 219.1,190.85 219.71,191.27 220.31,191.67 220.92,192.06 221.53,192.45 222.14,192.82 222.75,193.18 223.36,193.53 223.97,193.87 224.58,194.2 225.19,194.52 225.8,194.83 226.41,195.13 227.02,195.42 227.63,195.71 228.24,195.98 228.85,196.25 229.46,196.51 230.07,196.77 230.68,197.01 231.29,197.25 231.9,197.48 232.51,197.71 233.12,197.93 233.73,198.14 234.34,198.35 234.95,198.55 235.56,198.74 236.17,198.93 236.78,199.12 237.39,199.3 238,199.47 238.61,199.64 239.22,199.8 239.83,199.96 240.44,200.12 241.05,200.27 241.66,200.42 242.27,200.56 242.88,200.7 243.49,200.83 244.1,200.97 244.71,201.09 245.32,201.22 245.93,201.34 246.54,201.46 247.14,201.57 247.75,201.68 248.36,201.79 248.97,201.9 249.58,202 250.19,202.1 250.8,202.2 251.41,202.29 252.02,202.39 252.63,202.48 253.24,202.56 253.85,202.65 254.46,202.73 255.07,202.81 255.68,202.89 256.29,202.97 256.9,203.04 257.51,203.12 258.12,203.19 258.73,203.26 259.34,203.33 259.95,203.39 260.56,203.46 261.17,203.52 261.78,203.58 262.39,203.64 263,203.7 263.61,203.76 264.22,203.81 264.83,203.86 265.44,203.92 266.05,203.97 266.66,204.02 267.27,204.07 267.88,204.12 268.49,204.16 269.1,204.21 269.71,204.25 270.32,204.3 270.93,204.34 271.54,204.38 272.15,204.42 272.76,204.46 273.37,204.5 273.97,204.54 274.58,204.58 275.19,204.61 275.8,204.65 276.41,204.68 277.02,204.72 277.63,204.75 278.24,204.78 278.85,204.81 279.46,204.85 280.07,204.88 280.68,204.91 281.29,204.94 281.9,204.96 282.51,204.99 283.12,205.02 283.73,205.05 284.34,205.07 284.95,205.1 285.56,205.12 286.17,205.15 286.78,205.17 287.39,205.19 288,205.22 288.61,205.24 289.22,205.26 289.83,205.28 290.44,205.31 291.05,205.33 291.66,205.35 292.27,205.37 292.88,205.39 293.49,205.41 294.1,205.42 294.71,205.44 295.32,205.46 295.93,205.48 296.54,205.5 297.15,205.51 297.76,205.53 298.37,205.55 298.98,205.56 299.59,205.58 300.2,205.59 300.81,205.61 301.41,205.62 302.02,205.64 302.63,205.65 303.24,205.67 303.85,205.68 304.46,205.7 305.07,205.71 305.68,205.72 306.29,205.74 306.9,205.75 307.51,205.76 308.12,205.77 308.73,205.78 309.34,205.8 309.95,205.81 310.56,205.82 311.17,205.83 311.78,205.84 312.39,205.85 313,205.86 313.61,205.87 314.22,205.88 314.83,205.89 315.44,205.9 316.05,205.91 316.66,205.92 317.27,205.93 317.88,205.94 318.49,205.95 319.1,205.96 319.71,205.97 320.32,205.98 320.93,205.99 321.54,206 322.15,206 322.76,206.01 323.37,206.02 323.98,206.03 324.59,206.04 325.2,206.04 325.81,206.05 326.42,206.06 327.03,206.07 327.64,206.07 328.24,206.08 328.85,206.09 329.46,206.09 330.07,206.1 330.68,206.11 331.29,206.11 331.9,206.12 332.51,206.13 333.12,206.13" fill="none" stroke="#000000" stroke-width="2.6" stroke-linejoin="round" stroke-linecap="round" />
<polyline points="88.21,207.38 88.66,207.38 89.11,207.38 89.56,207.37 90.01,207.37 90.46,207.36 90.91,207.35 91.36,207.34 91.81,207.33 92.26,207.32 92.72,207.3 93.17,207.29 93.62,207.27 94.07,207.24 94.52,207.22 94.97,207.19 95.42,207.15 95.87,207.11 96.32,207.06 96.77,207.01 97.22,206.95 97.67,206.89 98.12,206.81 98.57,206.73 99.02,206.63 99.47,206.52 99.92,206.41 100.37,206.28 100.82,206.13 101.27,205.97 101.72,205.8 102.17,205.6 102.62,205.39 103.07,205.16 103.52,204.91 103.97,204.63 104.42,204.33 104.87,204 105.32,203.65 105.77,203.27 106.22,202.86 106.67,202.42 107.12,201.95 107.57,201.44 108.02,200.9 108.47,200.32 108.92,199.7 109.38,199.05 109.83,198.35 110.28,197.61 110.73,196.83 111.18,196 111.63,195.13 112.08,194.21 112.53,193.24 112.98,192.23 113.43,191.17 113.88,190.05 114.33,188.89 114.78,187.67 115.23,186.41 115.68,185.09 116.13,183.72 116.58,182.3 117.03,180.83 117.48,179.3 117.93,177.73 118.38,176.1 118.83,174.42 119.28,172.7 119.73,170.92 120.18,169.1 120.63,167.23 121.08,165.31 121.53,163.35 121.98,161.34 122.43,159.3 122.88,157.21 123.33,155.09 123.78,152.92 124.23,150.73 124.68,148.5 125.13,146.24 125.59,143.95 126.04,141.64 126.49,139.3 126.94,136.94 127.39,134.57 127.84,132.17 128.29,129.77 128.74,127.35 129.19,124.92 129.64,122.49 130.09,120.06 130.54,117.62 130.99,115.19 131.44,112.76 131.89,110.35 132.34,107.94 132.79,105.55 133.24,103.17 133.69,100.81 134.14,98.48 134.59,96.17 135.04,93.89 135.49,91.63 135.94,89.41 136.39,87.23 136.84,85.08 137.29,82.97 137.74,80.91 138.19,78.88 138.64,76.91 139.09,74.98 139.54,73.1 139.99,71.28 140.44,69.51 140.89,67.79 141.34,66.14 141.8,64.54 142.25,63 142.7,61.53 143.15,60.11 143.6,58.77 144.05,57.49 144.5,56.27 144.95,55.13 145.4,54.05 145.85,53.05 146.3,52.12 146.75,51.26 147.2,50.48 147.65,49.77 148.1,49.15 148.55,48.61 149,48.16 149.45,47.8 149.9,47.53 150.35,47.37 150.8,47.32 151.41,47.71 152.02,48.19 152.63,48.74 153.24,49.37 153.85,50.08 154.46,50.87 155.07,51.73 155.68,52.66 156.29,53.67 156.9,54.74 157.51,55.88 158.12,57.09 158.73,58.36 159.34,59.69 159.95,61.08 160.56,62.53 161.17,64.03 161.78,65.58 162.39,67.18 163,68.82 163.61,70.51 164.22,72.23 164.83,74 165.44,75.8 166.04,77.63 166.65,79.49 167.26,81.37 167.87,83.28 168.48,85.21 169.09,87.16 169.7,89.13 170.31,91.11 170.92,93.09 171.53,95.09 172.14,97.09 172.75,99.1 173.36,101.11 173.97,103.11 174.58,105.12 175.19,107.12 175.8,109.11 176.41,111.09 177.02,113.06 177.63,115.02 178.24,116.97 178.85,118.9 179.46,120.81 180.07,122.71 180.68,124.58 181.29,126.44 181.9,128.27 182.51,130.09 183.12,131.87 183.73,133.64 184.34,135.38 184.95,137.09 185.56,138.77 186.17,140.43 186.78,142.06 187.39,143.67 188,145.24 188.61,146.79 189.22,148.31 189.83,149.8 190.44,151.26 191.05,152.69 191.66,154.09 192.27,155.46 192.88,156.81 193.48,158.12 194.09,159.41 194.7,160.66 195.31,161.89 195.92,163.09 196.53,164.26 197.14,165.41 197.75,166.53 198.36,167.62 198.97,168.68 199.58,169.72 200.19,170.73 200.8,171.71 201.41,172.68 202.02,173.61 202.63,174.52 203.24,175.41 203.85,176.28 204.46,177.12 205.07,177.94 205.68,178.73 206.29,179.51 206.9,180.26 207.51,181 208.12,181.71 208.73,182.41 209.34,183.08 209.95,183.74 210.56,184.37 211.17,184.99 211.78,185.6 212.39,186.18 213,186.75 213.61,187.3 214.22,187.84 214.83,188.36 215.44,188.87 216.05,189.36 216.66,189.84 217.27,190.3 217.88,190.75 218.49,191.19 219.1,191.61 219.71,192.03 220.31,192.43 220.92,192.82 221.53,193.2 222.14,193.56 222.75,193.92 223.36,194.26 223.97,194.6 224.58,194.93 225.19,195.24 225.8,195.55 226.41,195.85 227.02,196.14 227.63,196.42 228.24,196.7 228.85,196.96 229.46,197.22 230.07,197.47 230.68,197.71 231.29,197.95 231.9,198.18 232.51,198.4 233.12,198.62 233.73,198.83 234.34,199.03 234.95,199.23 235.56,199.43 236.17,199.61 236.78,199.8 237.39,199.97 238,200.15 238.61,200.31 239.22,200.48 239.83,200.63 240.44,200.79 241.05,200.94 241.66,201.08 242.27,201.22 242.88,201.36 243.49,201.49 244.1,201.62 244.71,201.75 245.32,201.87 245.93,201.99 246.54,202.11 247.14,202.22 247.75,202.33 248.36,202.44 248.97,202.55 249.58,202.65 250.19,202.75 250.8,202.84 251.41,202.94 252.02,203.03 252.63,203.12 253.24,203.21 253.85,203.29 254.46,203.37 255.07,203.45 255.68,203.53 256.29,203.61 256.9,203.68 257.51,203.75 258.12,203.82 258.73,203.89 259.34,203.96 259.95,204.02 260.56,204.09 261.17,204.15 261.78,204.21 262.39,204.27 263,204.33 263.61,204.38 264.22,204.44 264.83,204.49 265.44,204.55 266.05,204.6 266.66,204.65 267.27,204.7 267.88,204.74 268.49,204.79 269.1,204.83 269.71,204.88 270.32,204.92 270.93,204.96 271.54,205.01 272.15,205.05 272.76,205.08 273.37,205.12 273.97,205.16 274.58,205.2 275.19,205.23 275.8,205.27 276.41,205.3 277.02,205.34 277.63,205.37 278.24,205.4 278.85,205.43 279.46,205.46 280.07,205.49 280.68,205.52 281.29,205.55 281.9,205.58 282.51,205.61 283.12,205.64 283.73,205.66 284.34,205.69 284.95,205.71 285.56,205.74 286.17,205.76 286.78,205.79 287.39,205.81 288,205.83 288.61,205.85 289.22,205.88 289.83,205.9 290.44,205.92 291.05,205.94 291.66,205.96 292.27,205.98 292.88,206 293.49,206.02 294.1,206.04 294.71,206.05 295.32,206.07 295.93,206.09 296.54,206.11 297.15,206.12 297.76,206.14 298.37,206.16 298.98,206.17 299.59,206.19 300.2,206.2 300.81,206.22 301.41,206.23 302.02,206.25 302.63,206.26 303.24,206.28 303.85,206.29 304.46,206.3 305.07,206.32 305.68,206.33 306.29,206.34 306.9,206.36 307.51,206.37 308.12,206.38 308.73,206.39 309.34,206.4 309.95,206.42 310.56,206.43 311.17,206.44 311.78,206.45 312.39,206.46 313,206.47 313.61,206.48 314.22,206.49 314.83,206.5 315.44,206.51 316.05,206.52 316.66,206.53 317.27,206.54 317.88,206.55 318.49,206.56 319.1,206.57 319.71,206.58 320.32,206.58 320.93,206.59 321.54,206.6 322.15,206.61 322.76,206.62 323.37,206.63 323.98,206.63 324.59,206.64 325.2,206.65 325.81,206.66 326.42,206.66 327.03,206.67 327.64,206.68 328.24,206.69 328.85,206.69 329.46,206.7 330.07,206.71 330.68,206.71 331.29,206.72 331.9,206.73 332.51,206.73 333.12,206.74" fill="none" stroke="#0a6e0a" stroke-width="3.1" stroke-linejoin="round" stroke-linecap="round" />
<rect x="61" y="7.3" width="294.8" height="219.01" fill="none" stroke="#000" stroke-width="1.6"/>
<line x1="61" y1="226.31" x2="61" y2="221.51" stroke="#000" stroke-width="1.5"/>
<line x1="106.35" y1="226.31" x2="106.35" y2="221.51" stroke="#000" stroke-width="1.5"/>
<line x1="151.71" y1="226.31" x2="151.71" y2="221.51" stroke="#000" stroke-width="1.5"/>
<line x1="197.06" y1="226.31" x2="197.06" y2="221.51" stroke="#000" stroke-width="1.5"/>
<line x1="242.42" y1="226.31" x2="242.42" y2="221.51" stroke="#000" stroke-width="1.5"/>
<line x1="287.77" y1="226.31" x2="287.77" y2="221.51" stroke="#000" stroke-width="1.5"/>
<line x1="333.12" y1="226.31" x2="333.12" y2="221.51" stroke="#000" stroke-width="1.5"/>
<line x1="83.68" y1="226.31" x2="83.68" y2="223.71" stroke="#000" stroke-width="1.5"/>
<line x1="129.03" y1="226.31" x2="129.03" y2="223.71" stroke="#000" stroke-width="1.5"/>
<line x1="174.38" y1="226.31" x2="174.38" y2="223.71" stroke="#000" stroke-width="1.5"/>
<line x1="219.74" y1="226.31" x2="219.74" y2="223.71" stroke="#000" stroke-width="1.5"/>
<line x1="265.09" y1="226.31" x2="265.09" y2="223.71" stroke="#000" stroke-width="1.5"/>
<line x1="310.45" y1="226.31" x2="310.45" y2="223.71" stroke="#000" stroke-width="1.5"/>
<line x1="61" y1="206.4" x2="66.9" y2="206.4" stroke="#000" stroke-width="1.5"/>
<line x1="61" y1="166.58" x2="66.9" y2="166.58" stroke="#000" stroke-width="1.5"/>
<line x1="61" y1="126.76" x2="66.9" y2="126.76" stroke="#000" stroke-width="1.5"/>
<line x1="61" y1="86.94" x2="66.9" y2="86.94" stroke="#000" stroke-width="1.5"/>
<line x1="61" y1="47.12" x2="66.9" y2="47.12" stroke="#000" stroke-width="1.5"/>
<line x1="61" y1="7.3" x2="66.9" y2="7.3" stroke="#000" stroke-width="1.5"/>
<line x1="61" y1="226.31" x2="64.8" y2="226.31" stroke="#000" stroke-width="1.5"/>
<line x1="61" y1="186.49" x2="64.8" y2="186.49" stroke="#000" stroke-width="1.5"/>
<line x1="61" y1="146.67" x2="64.8" y2="146.67" stroke="#000" stroke-width="1.5"/>
<line x1="61" y1="106.85" x2="64.8" y2="106.85" stroke="#000" stroke-width="1.5"/>
<line x1="61" y1="67.03" x2="64.8" y2="67.03" stroke="#000" stroke-width="1.5"/>
<line x1="61" y1="27.21" x2="64.8" y2="27.21" stroke="#000" stroke-width="1.5"/>
<text x="54.8" y="211.8" font-size="16.5" text-anchor="end" font-weight="normal" font-style="normal" >0</text>
<text x="54.8" y="171.98" font-size="16.5" text-anchor="end" font-weight="normal" font-style="normal" >1000</text>
<text x="54.8" y="132.16" font-size="16.5" text-anchor="end" font-weight="normal" font-style="normal" >2000</text>
<text x="54.8" y="92.34" font-size="16.5" text-anchor="end" font-weight="normal" font-style="normal" >3000</text>
<text x="54.8" y="52.52" font-size="16.5" text-anchor="end" font-weight="normal" font-style="normal" >4000</text>
<text x="54.8" y="12.7" font-size="16.5" text-anchor="end" font-weight="normal" font-style="normal" >5000</text>
<text x="61" y="245.8" font-size="16.5" text-anchor="middle" font-weight="normal" font-style="normal" >350</text>
<text x="106.35" y="245.8" font-size="16.5" text-anchor="middle" font-weight="normal" font-style="normal" >400</text>
<text x="151.71" y="245.8" font-size="16.5" text-anchor="middle" font-weight="normal" font-style="normal" >450</text>
<text x="197.06" y="245.8" font-size="16.5" text-anchor="middle" font-weight="normal" font-style="normal" >500</text>
<text x="242.42" y="245.8" font-size="16.5" text-anchor="middle" font-weight="normal" font-style="normal" >550</text>
<text x="287.77" y="245.8" font-size="16.5" text-anchor="middle" font-weight="normal" font-style="normal" >600</text>
<text x="333.12" y="245.8" font-size="16.5" text-anchor="middle" font-weight="normal" font-style="normal" >650</text>
<text x="208.3" y="263.5" font-size="16" text-anchor="middle" font-weight="bold" font-style="normal" >&#955; (nm)</text>
<text transform="translate(11.6,111.6) rotate(-90) scale(1.1,0.92)" font-size="16.5" text-anchor="middle" font-weight="bold"><tspan font-style="italic">I</tspan>(A.U.)</text>
<text x="68.3" y="36.2" font-size="27" text-anchor="start" font-weight="bold" font-style="normal" >(a)</text>
<text x="149.8" y="35.8" font-size="12.5" text-anchor="middle" font-weight="bold" font-style="normal" >6</text>
<text x="149.8" y="63.6" font-size="12.5" text-anchor="middle" font-weight="normal" font-style="normal" >7</text>
<text x="119.9" y="49.1" font-size="12.5" text-anchor="middle" font-weight="bold" font-style="normal" >5</text>
<text x="150.5" y="186.8" font-size="12.5" text-anchor="middle" font-weight="bold" font-style="normal" >4</text>
<text x="154" y="218.8" font-size="12.5" text-anchor="middle" font-weight="bold" font-style="normal" >1,2,3</text>
<line x1="128.5" y1="44.9" x2="150.5" y2="44.9" stroke="#000" stroke-width="1.3"/>
<polygon points="124.3,44.9 130.2,41.9 128.6,44.9 130.2,47.9" fill="#000"/>
<rect x="203.6" y="14.9" width="148.8" height="112.88" fill="#fff" stroke="none"/>
<polyline points="217.34,119.1 217.56,119.1 217.79,119.1 218.02,119.1 218.24,119.1 218.47,119.1 218.7,119.1 218.93,119.1 219.15,119.1 219.38,119.09 219.61,119.09 219.84,119.09 220.06,119.09 220.29,119.09 220.52,119.09 220.74,119.08 220.97,119.08 221.2,119.08 221.43,119.08 221.65,119.07 221.88,119.07 222.11,119.06 222.34,119.06 222.56,119.05 222.79,119.04 223.02,119.04 223.24,119.03 223.47,119.02 223.7,119.01 223.93,119 224.15,118.98 224.38,118.97 224.61,118.95 224.84,118.93 225.06,118.92 225.29,118.9 225.52,118.87 225.74,118.85 225.97,118.82 226.2,118.8 226.43,118.77 226.65,118.73 226.88,118.7 227.11,118.66 227.34,118.62 227.56,118.58 227.79,118.53 228.02,118.48 228.24,118.43 228.47,118.38 228.7,118.32 228.93,118.26 229.15,118.2 229.38,118.13 229.61,118.06 229.84,117.98 230.06,117.9 230.29,117.82 230.52,117.73 230.74,117.65 230.97,117.55 231.2,117.45 231.43,117.35 231.65,117.25 231.88,117.14 232.11,117.03 232.34,116.91 232.56,116.79 232.79,116.67 233.02,116.54 233.24,116.41 233.47,116.27 233.7,116.14 233.93,116 234.15,115.85 234.38,115.7 234.61,115.55 234.84,115.4 235.06,115.24 235.29,115.08 235.52,114.92 235.74,114.76 235.97,114.59 236.2,114.42 236.43,114.25 236.65,114.08 236.88,113.9 237.11,113.73 237.34,113.55 237.56,113.37 237.79,113.19 238.02,113.02 238.24,112.84 238.47,112.66 238.7,112.48 238.93,112.3 239.15,112.12 239.38,111.94 239.61,111.76 239.84,111.59 240.06,111.41 240.29,111.24 240.52,111.06 240.74,110.89 240.97,110.73 241.2,110.56 241.43,110.4 241.65,110.23 241.88,110.08 242.11,109.92 242.34,109.77 242.56,109.62 242.79,109.47 243.02,109.33 243.24,109.19 243.47,109.06 243.7,108.93 243.93,108.8 244.15,108.68 244.38,108.56 244.61,108.45 244.84,108.34 245.06,108.23 245.29,108.14 245.52,108.04 245.74,107.95 245.97,107.87 246.2,107.79 246.43,107.71 246.65,107.64 246.88,107.58 247.11,107.52 247.34,107.47 247.56,107.43 247.79,107.39 248.02,107.35 248.24,107.33 248.47,107.31 248.7,107.29 248.93,107.29 249.23,107.32 249.54,107.35 249.85,107.4 250.16,107.44 250.47,107.49 250.77,107.55 251.08,107.62 251.39,107.68 251.7,107.76 252,107.84 252.31,107.92 252.62,108.01 252.93,108.11 253.24,108.2 253.54,108.31 253.85,108.41 254.16,108.52 254.47,108.64 254.77,108.76 255.08,108.88 255.39,109 255.7,109.13 256.01,109.26 256.31,109.39 256.62,109.53 256.93,109.66 257.24,109.8 257.54,109.94 257.85,110.09 258.16,110.23 258.47,110.38 258.78,110.52 259.08,110.67 259.39,110.81 259.7,110.96 260.01,111.11 260.31,111.26 260.62,111.41 260.93,111.55 261.24,111.7 261.55,111.85 261.85,112 262.16,112.14 262.47,112.29 262.78,112.43 263.08,112.57 263.39,112.71 263.7,112.85 264.01,112.99 264.32,113.13 264.62,113.26 264.93,113.4 265.24,113.53 265.55,113.66 265.85,113.79 266.16,113.91 266.47,114.04 266.78,114.16 267.09,114.28 267.39,114.4 267.7,114.51 268.01,114.63 268.32,114.74 268.62,114.85 268.93,114.96 269.24,115.06 269.55,115.17 269.86,115.27 270.16,115.37 270.47,115.46 270.78,115.56 271.09,115.65 271.39,115.74 271.7,115.83 272.01,115.92 272.32,116 272.63,116.08 272.93,116.17 273.24,116.24 273.55,116.32 273.86,116.39 274.16,116.47 274.47,116.54 274.78,116.61 275.09,116.67 275.4,116.74 275.7,116.8 276.01,116.87 276.32,116.93 276.63,116.99 276.94,117.04 277.24,117.1 277.55,117.15 277.86,117.21 278.17,117.26 278.47,117.31 278.78,117.35 279.09,117.4 279.4,117.45 279.71,117.49 280.01,117.53 280.32,117.58 280.63,117.62 280.94,117.66 281.24,117.7 281.55,117.73 281.86,117.77 282.17,117.8 282.48,117.84 282.78,117.87 283.09,117.9 283.4,117.94 283.71,117.97 284.01,118 284.32,118.02 284.63,118.05 284.94,118.08 285.25,118.11 285.55,118.13 285.86,118.16 286.17,118.18 286.48,118.2 286.78,118.23 287.09,118.25 287.4,118.27 287.71,118.29 288.02,118.31 288.32,118.33 288.63,118.35 288.94,118.37 289.25,118.39 289.55,118.4 289.86,118.42 290.17,118.44 290.48,118.45 290.79,118.47 291.09,118.48 291.4,118.5 291.71,118.51 292.02,118.53 292.32,118.54 292.63,118.55 292.94,118.57 293.25,118.58 293.56,118.59 293.86,118.6 294.17,118.61 294.48,118.62 294.79,118.63 295.09,118.64 295.4,118.65 295.71,118.66 296.02,118.67 296.33,118.68 296.63,118.69 296.94,118.7 297.25,118.71 297.56,118.72 297.86,118.73 298.17,118.73 298.48,118.74 298.79,118.75 299.1,118.76 299.4,118.76 299.71,118.77 300.02,118.78 300.33,118.78 300.63,118.79 300.94,118.8 301.25,118.8 301.56,118.81 301.87,118.81 302.17,118.82 302.48,118.83 302.79,118.83 303.1,118.84 303.4,118.84 303.71,118.85 304.02,118.85 304.33,118.86 304.64,118.86 304.94,118.87 305.25,118.87 305.56,118.87 305.87,118.88 306.17,118.88 306.48,118.89 306.79,118.89 307.1,118.89 307.41,118.9 307.71,118.9 308.02,118.9 308.33,118.91 308.64,118.91 308.94,118.91 309.25,118.92 309.56,118.92 309.87,118.92 310.18,118.93 310.48,118.93 310.79,118.93 311.1,118.94 311.41,118.94 311.71,118.94 312.02,118.94 312.33,118.95 312.64,118.95 312.95,118.95 313.25,118.95 313.56,118.96 313.87,118.96 314.18,118.96 314.48,118.96 314.79,118.96 315.1,118.97 315.41,118.97 315.72,118.97 316.02,118.97 316.33,118.97 316.64,118.98 316.95,118.98 317.25,118.98 317.56,118.98 317.87,118.98 318.18,118.98 318.49,118.99 318.79,118.99 319.1,118.99 319.41,118.99 319.72,118.99 320.02,118.99 320.33,119 320.64,119 320.95,119 321.26,119 321.56,119 321.87,119 322.18,119 322.49,119 322.79,119.01 323.1,119.01 323.41,119.01 323.72,119.01 324.03,119.01 324.33,119.01 324.64,119.01 324.95,119.01 325.26,119.02 325.56,119.02 325.87,119.02 326.18,119.02 326.49,119.02 326.8,119.02 327.1,119.02 327.41,119.02 327.72,119.02 328.03,119.02 328.33,119.03 328.64,119.03 328.95,119.03 329.26,119.03 329.57,119.03 329.87,119.03 330.18,119.03 330.49,119.03 330.8,119.03 331.1,119.03 331.41,119.03 331.72,119.03 332.03,119.03 332.34,119.04 332.64,119.04 332.95,119.04 333.26,119.04 333.57,119.04 333.87,119.04 334.18,119.04 334.49,119.04 334.8,119.04 335.11,119.04 335.41,119.04 335.72,119.04 336.03,119.04 336.34,119.04 336.64,119.04 336.95,119.04 337.26,119.05 337.57,119.05 337.88,119.05 338.18,119.05 338.49,119.05 338.8,119.05 339.11,119.05 339.41,119.05 339.72,119.05 340.03,119.05 340.34,119.05 340.65,119.05 340.95,119.05" fill="none" stroke="#33eeee" stroke-width="2.2" stroke-linejoin="round" stroke-linecap="round" />
<polyline points="217.34,119.09 217.56,119.09 217.79,119.09 218.02,119.09 218.24,119.08 218.47,119.08 218.7,119.07 218.93,119.07 219.15,119.06 219.38,119.05 219.61,119.05 219.84,119.03 220.06,119.02 220.29,119.01 220.52,118.99 220.74,118.97 220.97,118.95 221.2,118.93 221.43,118.9 221.65,118.87 221.88,118.83 222.11,118.79 222.34,118.75 222.56,118.7 222.79,118.64 223.02,118.58 223.24,118.5 223.47,118.43 223.7,118.34 223.93,118.24 224.15,118.14 224.38,118.02 224.61,117.89 224.84,117.75 225.06,117.6 225.29,117.43 225.52,117.25 225.74,117.06 225.97,116.85 226.2,116.62 226.43,116.37 226.65,116.11 226.88,115.82 227.11,115.52 227.34,115.19 227.56,114.84 227.79,114.47 228.02,114.07 228.24,113.65 228.47,113.21 228.7,112.74 228.93,112.24 229.15,111.71 229.38,111.16 229.61,110.58 229.84,109.97 230.06,109.33 230.29,108.66 230.52,107.96 230.74,107.23 230.97,106.46 231.2,105.67 231.43,104.85 231.65,103.99 231.88,103.1 232.11,102.19 232.34,101.24 232.56,100.26 232.79,99.25 233.02,98.21 233.24,97.14 233.47,96.04 233.7,94.91 233.93,93.76 234.15,92.58 234.38,91.37 234.61,90.14 234.84,88.88 235.06,87.6 235.29,86.3 235.52,84.98 235.74,83.64 235.97,82.28 236.2,80.9 236.43,79.51 236.65,78.1 236.88,76.68 237.11,75.25 237.34,73.81 237.56,72.36 237.79,70.9 238.02,69.44 238.24,67.98 238.47,66.51 238.7,65.05 238.93,63.58 239.15,62.12 239.38,60.67 239.61,59.22 239.84,57.78 240.06,56.34 240.29,54.93 240.52,53.52 240.74,52.13 240.97,50.75 241.2,49.4 241.43,48.06 241.65,46.74 241.88,45.45 242.11,44.18 242.34,42.94 242.56,41.72 242.79,40.53 243.02,39.37 243.24,38.24 243.47,37.14 243.7,36.08 243.93,35.04 244.15,34.05 244.38,33.08 244.61,32.16 244.84,31.27 245.06,30.42 245.29,29.61 245.52,28.84 245.74,28.11 245.97,27.42 246.2,26.77 246.43,26.17 246.65,25.61 246.88,25.09 247.11,24.62 247.34,24.19 247.56,23.82 247.79,23.49 248.02,23.22 248.24,23 248.47,22.84 248.7,22.75 248.93,22.72 249.23,22.95 249.54,23.24 249.85,23.57 250.16,23.95 250.47,24.38 250.77,24.85 251.08,25.37 251.39,25.93 251.7,26.54 252,27.18 252.31,27.87 252.62,28.6 252.93,29.36 253.24,30.17 253.54,31 253.85,31.87 254.16,32.78 254.47,33.71 254.77,34.67 255.08,35.66 255.39,36.68 255.7,37.72 256.01,38.78 256.31,39.86 256.62,40.96 256.93,42.08 257.24,43.22 257.54,44.37 257.85,45.53 258.16,46.71 258.47,47.89 258.78,49.08 259.08,50.28 259.39,51.48 259.7,52.69 260.01,53.89 260.31,55.1 260.62,56.31 260.93,57.52 261.24,58.72 261.55,59.92 261.85,61.11 262.16,62.3 262.47,63.48 262.78,64.65 263.08,65.81 263.39,66.97 263.7,68.11 264.01,69.24 264.32,70.36 264.62,71.46 264.93,72.55 265.24,73.63 265.55,74.69 265.85,75.74 266.16,76.77 266.47,77.78 266.78,78.78 267.09,79.76 267.39,80.73 267.7,81.68 268.01,82.61 268.32,83.52 268.62,84.42 268.93,85.3 269.24,86.16 269.55,87 269.86,87.83 270.16,88.64 270.47,89.43 270.78,90.2 271.09,90.96 271.39,91.7 271.7,92.42 272.01,93.13 272.32,93.82 272.63,94.49 272.93,95.15 273.24,95.79 273.55,96.41 273.86,97.02 274.16,97.62 274.47,98.19 274.78,98.76 275.09,99.31 275.4,99.84 275.7,100.36 276.01,100.87 276.32,101.36 276.63,101.84 276.94,102.31 277.24,102.76 277.55,103.21 277.86,103.64 278.17,104.05 278.47,104.46 278.78,104.85 279.09,105.24 279.4,105.61 279.71,105.97 280.01,106.33 280.32,106.67 280.63,107 280.94,107.32 281.24,107.64 281.55,107.94 281.86,108.24 282.17,108.53 282.48,108.81 282.78,109.08 283.09,109.34 283.4,109.6 283.71,109.85 284.01,110.09 284.32,110.32 284.63,110.55 284.94,110.77 285.25,110.99 285.55,111.19 285.86,111.4 286.17,111.59 286.48,111.78 286.78,111.97 287.09,112.15 287.4,112.32 287.71,112.49 288.02,112.66 288.32,112.82 288.63,112.97 288.94,113.12 289.25,113.27 289.55,113.41 289.86,113.55 290.17,113.68 290.48,113.82 290.79,113.94 291.09,114.07 291.4,114.18 291.71,114.3 292.02,114.41 292.32,114.52 292.63,114.63 292.94,114.73 293.25,114.84 293.56,114.93 293.86,115.03 294.17,115.12 294.48,115.21 294.79,115.3 295.09,115.38 295.4,115.47 295.71,115.55 296.02,115.63 296.33,115.7 296.63,115.78 296.94,115.85 297.25,115.92 297.56,115.99 297.86,116.05 298.17,116.12 298.48,116.18 298.79,116.24 299.1,116.3 299.4,116.36 299.71,116.42 300.02,116.47 300.33,116.52 300.63,116.58 300.94,116.63 301.25,116.68 301.56,116.73 301.87,116.77 302.17,116.82 302.48,116.86 302.79,116.91 303.1,116.95 303.4,116.99 303.71,117.03 304.02,117.07 304.33,117.11 304.64,117.15 304.94,117.18 305.25,117.22 305.56,117.25 305.87,117.29 306.17,117.32 306.48,117.35 306.79,117.38 307.1,117.41 307.41,117.44 307.71,117.47 308.02,117.5 308.33,117.53 308.64,117.56 308.94,117.58 309.25,117.61 309.56,117.64 309.87,117.66 310.18,117.69 310.48,117.71 310.79,117.73 311.1,117.75 311.41,117.78 311.71,117.8 312.02,117.82 312.33,117.84 312.64,117.86 312.95,117.88 313.25,117.9 313.56,117.92 313.87,117.94 314.18,117.96 314.48,117.97 314.79,117.99 315.1,118.01 315.41,118.02 315.72,118.04 316.02,118.06 316.33,118.07 316.64,118.09 316.95,118.1 317.25,118.12 317.56,118.13 317.87,118.14 318.18,118.16 318.49,118.17 318.79,118.19 319.1,118.2 319.41,118.21 319.72,118.22 320.02,118.24 320.33,118.25 320.64,118.26 320.95,118.27 321.26,118.28 321.56,118.29 321.87,118.3 322.18,118.31 322.49,118.32 322.79,118.33 323.1,118.34 323.41,118.35 323.72,118.36 324.03,118.37 324.33,118.38 324.64,118.39 324.95,118.4 325.26,118.41 325.56,118.42 325.87,118.43 326.18,118.43 326.49,118.44 326.8,118.45 327.1,118.46 327.41,118.47 327.72,118.47 328.03,118.48 328.33,118.49 328.64,118.5 328.95,118.5 329.26,118.51 329.57,118.52 329.87,118.52 330.18,118.53 330.49,118.54 330.8,118.54 331.1,118.55 331.41,118.56 331.72,118.56 332.03,118.57 332.34,118.57 332.64,118.58 332.95,118.58 333.26,118.59 333.57,118.6 333.87,118.6 334.18,118.61 334.49,118.61 334.8,118.62 335.11,118.62 335.41,118.63 335.72,118.63 336.03,118.64 336.34,118.64 336.64,118.65 336.95,118.65 337.26,118.66 337.57,118.66 337.88,118.66 338.18,118.67 338.49,118.67 338.8,118.68 339.11,118.68 339.41,118.68 339.72,118.69 340.03,118.69 340.34,118.7 340.65,118.7 340.95,118.7" fill="none" stroke="#22dd22" stroke-width="1.6" stroke-linejoin="round" stroke-linecap="round" />
<polyline points="217.34,119.1 217.56,119.1 217.79,119.1 218.02,119.1 218.24,119.1 218.47,119.1 218.7,119.1 218.93,119.1 219.15,119.1 219.38,119.1 219.61,119.1 219.84,119.1 220.06,119.1 220.29,119.1 220.52,119.1 220.74,119.1 220.97,119.09 221.2,119.09 221.43,119.09 221.65,119.09 221.88,119.09 222.11,119.09 222.34,119.09 222.56,119.09 222.79,119.08 223.02,119.08 223.24,119.08 223.47,119.08 223.7,119.07 223.93,119.07 224.15,119.07 224.38,119.06 224.61,119.06 224.84,119.05 225.06,119.05 225.29,119.04 225.52,119.03 225.74,119.03 225.97,119.02 226.2,119.01 226.43,119 226.65,118.99 226.88,118.98 227.11,118.97 227.34,118.96 227.56,118.95 227.79,118.93 228.02,118.92 228.24,118.9 228.47,118.89 228.7,118.87 228.93,118.85 229.15,118.83 229.38,118.81 229.61,118.79 229.84,118.77 230.06,118.75 230.29,118.72 230.52,118.7 230.74,118.67 230.97,118.64 231.2,118.62 231.43,118.59 231.65,118.56 231.88,118.52 232.11,118.49 232.34,118.46 232.56,118.42 232.79,118.38 233.02,118.35 233.24,118.31 233.47,118.27 233.7,118.23 233.93,118.19 234.15,118.14 234.38,118.1 234.61,118.06 234.84,118.01 235.06,117.96 235.29,117.92 235.52,117.87 235.74,117.82 235.97,117.77 236.2,117.72 236.43,117.67 236.65,117.62 236.88,117.57 237.11,117.52 237.34,117.47 237.56,117.42 237.79,117.36 238.02,117.31 238.24,117.26 238.47,117.2 238.7,117.15 238.93,117.1 239.15,117.05 239.38,116.99 239.61,116.94 239.84,116.89 240.06,116.84 240.29,116.79 240.52,116.74 240.74,116.69 240.97,116.64 241.2,116.59 241.43,116.54 241.65,116.49 241.88,116.45 242.11,116.4 242.34,116.36 242.56,116.31 242.79,116.27 243.02,116.23 243.24,116.19 243.47,116.15 243.7,116.11 243.93,116.07 244.15,116.03 244.38,116 244.61,115.97 244.84,115.93 245.06,115.9 245.29,115.88 245.52,115.85 245.74,115.82 245.97,115.8 246.2,115.77 246.43,115.75 246.65,115.73 246.88,115.71 247.11,115.7 247.34,115.68 247.56,115.67 247.79,115.65 248.02,115.64 248.24,115.64 248.47,115.63 248.7,115.63 248.93,115.63 249.23,115.64 249.54,115.65 249.85,115.66 250.16,115.67 250.47,115.69 250.77,115.7 251.08,115.72 251.39,115.74 251.7,115.76 252,115.79 252.31,115.81 252.62,115.84 252.93,115.87 253.24,115.9 253.54,115.93 253.85,115.96 254.16,115.99 254.47,116.02 254.77,116.06 255.08,116.09 255.39,116.13 255.7,116.17 256.01,116.21 256.31,116.24 256.62,116.28 256.93,116.32 257.24,116.37 257.54,116.41 257.85,116.45 258.16,116.49 258.47,116.53 258.78,116.58 259.08,116.62 259.39,116.66 259.7,116.71 260.01,116.75 260.31,116.79 260.62,116.84 260.93,116.88 261.24,116.92 261.55,116.97 261.85,117.01 262.16,117.05 262.47,117.1 262.78,117.14 263.08,117.18 263.39,117.22 263.7,117.26 264.01,117.3 264.32,117.34 264.62,117.38 264.93,117.42 265.24,117.46 265.55,117.5 265.85,117.54 266.16,117.57 266.47,117.61 266.78,117.65 267.09,117.68 267.39,117.72 267.7,117.75 268.01,117.78 268.32,117.82 268.62,117.85 268.93,117.88 269.24,117.91 269.55,117.94 269.86,117.97 270.16,118 270.47,118.03 270.78,118.06 271.09,118.09 271.39,118.11 271.7,118.14 272.01,118.16 272.32,118.19 272.63,118.21 272.93,118.24 273.24,118.26 273.55,118.28 273.86,118.3 274.16,118.33 274.47,118.35 274.78,118.37 275.09,118.39 275.4,118.41 275.7,118.42 276.01,118.44 276.32,118.46 276.63,118.48 276.94,118.49 277.24,118.51 277.55,118.53 277.86,118.54 278.17,118.56 278.47,118.57 278.78,118.59 279.09,118.6 279.4,118.61 279.71,118.63 280.01,118.64 280.32,118.65 280.63,118.66 280.94,118.68 281.24,118.69 281.55,118.7 281.86,118.71 282.17,118.72 282.48,118.73 282.78,118.74 283.09,118.75 283.4,118.76 283.71,118.77 284.01,118.78 284.32,118.78 284.63,118.79 284.94,118.8 285.25,118.81 285.55,118.82 285.86,118.82 286.17,118.83 286.48,118.84 286.78,118.84 287.09,118.85 287.4,118.86 287.71,118.86 288.02,118.87 288.32,118.87 288.63,118.88 288.94,118.88 289.25,118.89 289.55,118.9 289.86,118.9 290.17,118.9 290.48,118.91 290.79,118.91 291.09,118.92 291.4,118.92 291.71,118.93 292.02,118.93 292.32,118.94 292.63,118.94 292.94,118.94 293.25,118.95 293.56,118.95 293.86,118.95 294.17,118.96 294.48,118.96 294.79,118.96 295.09,118.97 295.4,118.97 295.71,118.97 296.02,118.97 296.33,118.98 296.63,118.98 296.94,118.98 297.25,118.99 297.56,118.99 297.86,118.99 298.17,118.99 298.48,118.99 298.79,119 299.1,119 299.4,119 299.71,119 300.02,119.01 300.33,119.01 300.63,119.01 300.94,119.01 301.25,119.01 301.56,119.01 301.87,119.02 302.17,119.02 302.48,119.02 302.79,119.02 303.1,119.02 303.4,119.02 303.71,119.03 304.02,119.03 304.33,119.03 304.64,119.03 304.94,119.03 305.25,119.03 305.56,119.03 305.87,119.03 306.17,119.04 306.48,119.04 306.79,119.04 307.1,119.04 307.41,119.04 307.71,119.04 308.02,119.04 308.33,119.04 308.64,119.04 308.94,119.05 309.25,119.05 309.56,119.05 309.87,119.05 310.18,119.05 310.48,119.05 310.79,119.05 311.1,119.05 311.41,119.05 311.71,119.05 312.02,119.05 312.33,119.05 312.64,119.06 312.95,119.06 313.25,119.06 313.56,119.06 313.87,119.06 314.18,119.06 314.48,119.06 314.79,119.06 315.1,119.06 315.41,119.06 315.72,119.06 316.02,119.06 316.33,119.06 316.64,119.06 316.95,119.06 317.25,119.06 317.56,119.07 317.87,119.07 318.18,119.07 318.49,119.07 318.79,119.07 319.1,119.07 319.41,119.07 319.72,119.07 320.02,119.07 320.33,119.07 320.64,119.07 320.95,119.07 321.26,119.07 321.56,119.07 321.87,119.07 322.18,119.07 322.49,119.07 322.79,119.07 323.1,119.07 323.41,119.07 323.72,119.07 324.03,119.07 324.33,119.07 324.64,119.07 324.95,119.07 325.26,119.08 325.56,119.08 325.87,119.08 326.18,119.08 326.49,119.08 326.8,119.08 327.1,119.08 327.41,119.08 327.72,119.08 328.03,119.08 328.33,119.08 328.64,119.08 328.95,119.08 329.26,119.08 329.57,119.08 329.87,119.08 330.18,119.08 330.49,119.08 330.8,119.08 331.1,119.08 331.41,119.08 331.72,119.08 332.03,119.08 332.34,119.08 332.64,119.08 332.95,119.08 333.26,119.08 333.57,119.08 333.87,119.08 334.18,119.08 334.49,119.08 334.8,119.08 335.11,119.08 335.41,119.08 335.72,119.08 336.03,119.08 336.34,119.08 336.64,119.08 336.95,119.08 337.26,119.08 337.57,119.08 337.88,119.08 338.18,119.08 338.49,119.08 338.8,119.08 339.11,119.08 339.41,119.09 339.72,119.09 340.03,119.09 340.34,119.09 340.65,119.09 340.95,119.09" fill="none" stroke="#1a6a1a" stroke-width="1.6" stroke-linejoin="round" stroke-linecap="round" />
<rect x="203.6" y="14.9" width="148.8" height="112.88" fill="none" stroke="#000" stroke-width="1.3"/>
<line x1="226.49" y1="127.78" x2="226.49" y2="123.98" stroke="#000" stroke-width="1.5"/>
<line x1="272.28" y1="127.78" x2="272.28" y2="123.98" stroke="#000" stroke-width="1.5"/>
<line x1="318.06" y1="127.78" x2="318.06" y2="123.98" stroke="#000" stroke-width="1.5"/>
<line x1="249.38" y1="127.78" x2="249.38" y2="125.38" stroke="#000" stroke-width="1.5"/>
<line x1="295.17" y1="127.78" x2="295.17" y2="125.38" stroke="#000" stroke-width="1.5"/>
<line x1="340.95" y1="127.78" x2="340.95" y2="125.38" stroke="#000" stroke-width="1.5"/>
<line x1="226.49" y1="14.9" x2="226.49" y2="18.7" stroke="#000" stroke-width="1.5"/>
<line x1="272.28" y1="14.9" x2="272.28" y2="18.7" stroke="#000" stroke-width="1.5"/>
<line x1="318.06" y1="14.9" x2="318.06" y2="18.7" stroke="#000" stroke-width="1.5"/>
<line x1="249.38" y1="14.9" x2="249.38" y2="17.3" stroke="#000" stroke-width="1.5"/>
<line x1="295.17" y1="14.9" x2="295.17" y2="17.3" stroke="#000" stroke-width="1.5"/>
<line x1="340.95" y1="14.9" x2="340.95" y2="17.3" stroke="#000" stroke-width="1.5"/>
<line x1="203.6" y1="119.1" x2="207.4" y2="119.1" stroke="#000" stroke-width="1.5"/>
<line x1="203.6" y1="84.37" x2="207.4" y2="84.37" stroke="#000" stroke-width="1.5"/>
<line x1="203.6" y1="49.63" x2="207.4" y2="49.63" stroke="#000" stroke-width="1.5"/>
<line x1="203.6" y1="14.9" x2="207.4" y2="14.9" stroke="#000" stroke-width="1.5"/>
<line x1="203.6" y1="101.73" x2="206" y2="101.73" stroke="#000" stroke-width="1.5"/>
<line x1="203.6" y1="67" x2="206" y2="67" stroke="#000" stroke-width="1.5"/>
<line x1="203.6" y1="32.27" x2="206" y2="32.27" stroke="#000" stroke-width="1.5"/>
<line x1="352.4" y1="119.1" x2="348.6" y2="119.1" stroke="#000" stroke-width="1.5"/>
<line x1="352.4" y1="84.37" x2="348.6" y2="84.37" stroke="#000" stroke-width="1.5"/>
<line x1="352.4" y1="49.63" x2="348.6" y2="49.63" stroke="#000" stroke-width="1.5"/>
<line x1="352.4" y1="14.9" x2="348.6" y2="14.9" stroke="#000" stroke-width="1.5"/>
<text x="201.2" y="122.7" font-size="12" text-anchor="end" font-weight="normal" font-style="normal" >0</text>
<text x="201.2" y="87.97" font-size="12" text-anchor="end" font-weight="normal" font-style="normal" >20</text>
<text x="201.2" y="53.23" font-size="12" text-anchor="end" font-weight="normal" font-style="normal" >40</text>
<text x="201.2" y="18.5" font-size="12" text-anchor="end" font-weight="normal" font-style="normal" >60</text>
<text x="226.49" y="140.2" font-size="12.5" text-anchor="middle" font-weight="normal" font-style="normal" >400</text>
<text x="272.28" y="140.2" font-size="12.5" text-anchor="middle" font-weight="normal" font-style="normal" >500</text>
<text x="318.06" y="140.2" font-size="12.5" text-anchor="middle" font-weight="normal" font-style="normal" >600</text>
<text x="270.8" y="151.6" font-size="13" text-anchor="middle" font-weight="bold" font-style="normal" >&#955; (nm)</text>
<text transform="translate(185.3,66.6) rotate(-90) scale(1.1,1)" font-size="12.8" text-anchor="middle" font-weight="bold"><tspan font-style="italic">I</tspan> (A.U.)</text>
<text x="249.3" y="38.3" font-size="12" text-anchor="middle" font-weight="bold" font-style="normal" >3</text>
<text x="248.2" y="105.5" font-size="12" text-anchor="middle" font-weight="bold" font-style="normal" >2</text>
<text x="248.4" y="126.2" font-size="12" text-anchor="middle" font-weight="bold" font-style="normal" >1</text>
<line x1="455.05" y1="207.13" x2="487.92" y2="183.23" stroke="#000" stroke-width="3.0" stroke-linecap="round"/>
<line x1="495.51" y1="176.22" x2="530.03" y2="135.86" stroke="#000" stroke-width="3.0" stroke-linecap="round"/>
<line x1="536.68" y1="127.86" x2="571.44" y2="84.74" stroke="#000" stroke-width="3.0" stroke-linecap="round"/>
<line x1="578.03" y1="76.7" x2="612.66" y2="35.14" stroke="#000" stroke-width="3.0" stroke-linecap="round"/>
<line x1="621.19" y1="31.21" x2="652.07" y2="31.61" stroke="#000" stroke-width="3.0" stroke-linecap="round"/>
<line x1="662.47" y1="31.55" x2="693.36" y2="30.74" stroke="#000" stroke-width="3.0" stroke-linecap="round"/>
<circle cx="450.84" cy="210.19" r="2.25" fill="#fff" stroke="#000" stroke-width="1.7"/>
<circle cx="492.13" cy="180.17" r="2.25" fill="#fff" stroke="#000" stroke-width="1.7"/>
<circle cx="533.41" cy="131.91" r="2.25" fill="#fff" stroke="#000" stroke-width="1.7"/>
<circle cx="574.7" cy="80.69" r="2.25" fill="#fff" stroke="#000" stroke-width="1.7"/>
<circle cx="615.99" cy="31.14" r="2.25" fill="#fff" stroke="#000" stroke-width="1.7"/>
<circle cx="657.27" cy="31.68" r="2.25" fill="#fff" stroke="#000" stroke-width="1.7"/>
<circle cx="698.56" cy="30.61" r="2.25" fill="#fff" stroke="#000" stroke-width="1.7"/>
<rect x="430.2" y="10" width="289" height="215.2" fill="none" stroke="#000" stroke-width="1.6"/>
<line x1="450.84" y1="225.2" x2="450.84" y2="220.4" stroke="#000" stroke-width="1.5"/>
<line x1="492.13" y1="225.2" x2="492.13" y2="220.4" stroke="#000" stroke-width="1.5"/>
<line x1="533.41" y1="225.2" x2="533.41" y2="220.4" stroke="#000" stroke-width="1.5"/>
<line x1="574.7" y1="225.2" x2="574.7" y2="220.4" stroke="#000" stroke-width="1.5"/>
<line x1="615.99" y1="225.2" x2="615.99" y2="220.4" stroke="#000" stroke-width="1.5"/>
<line x1="657.27" y1="225.2" x2="657.27" y2="220.4" stroke="#000" stroke-width="1.5"/>
<line x1="698.56" y1="225.2" x2="698.56" y2="220.4" stroke="#000" stroke-width="1.5"/>
<line x1="471.49" y1="225.2" x2="471.49" y2="222.6" stroke="#000" stroke-width="1.5"/>
<line x1="512.77" y1="225.2" x2="512.77" y2="222.6" stroke="#000" stroke-width="1.5"/>
<line x1="554.06" y1="225.2" x2="554.06" y2="222.6" stroke="#000" stroke-width="1.5"/>
<line x1="595.34" y1="225.2" x2="595.34" y2="222.6" stroke="#000" stroke-width="1.5"/>
<line x1="636.63" y1="225.2" x2="636.63" y2="222.6" stroke="#000" stroke-width="1.5"/>
<line x1="677.91" y1="225.2" x2="677.91" y2="222.6" stroke="#000" stroke-width="1.5"/>
<line x1="450.84" y1="10" x2="450.84" y2="14.8" stroke="#000" stroke-width="1.5"/>
<line x1="492.13" y1="10" x2="492.13" y2="14.8" stroke="#000" stroke-width="1.5"/>
<line x1="533.41" y1="10" x2="533.41" y2="14.8" stroke="#000" stroke-width="1.5"/>
<line x1="574.7" y1="10" x2="574.7" y2="14.8" stroke="#000" stroke-width="1.5"/>
<line x1="615.99" y1="10" x2="615.99" y2="14.8" stroke="#000" stroke-width="1.5"/>
<line x1="657.27" y1="10" x2="657.27" y2="14.8" stroke="#000" stroke-width="1.5"/>
<line x1="698.56" y1="10" x2="698.56" y2="14.8" stroke="#000" stroke-width="1.5"/>
<line x1="471.49" y1="10" x2="471.49" y2="12.6" stroke="#000" stroke-width="1.5"/>
<line x1="512.77" y1="10" x2="512.77" y2="12.6" stroke="#000" stroke-width="1.5"/>
<line x1="554.06" y1="10" x2="554.06" y2="12.6" stroke="#000" stroke-width="1.5"/>
<line x1="595.34" y1="10" x2="595.34" y2="12.6" stroke="#000" stroke-width="1.5"/>
<line x1="636.63" y1="10" x2="636.63" y2="12.6" stroke="#000" stroke-width="1.5"/>
<line x1="677.91" y1="10" x2="677.91" y2="12.6" stroke="#000" stroke-width="1.5"/>
<line x1="430.2" y1="225.2" x2="436.1" y2="225.2" stroke="#000" stroke-width="1.5"/>
<line x1="430.2" y1="198.3" x2="436.1" y2="198.3" stroke="#000" stroke-width="1.5"/>
<line x1="430.2" y1="171.4" x2="436.1" y2="171.4" stroke="#000" stroke-width="1.5"/>
<line x1="430.2" y1="144.5" x2="436.1" y2="144.5" stroke="#000" stroke-width="1.5"/>
<line x1="430.2" y1="117.6" x2="436.1" y2="117.6" stroke="#000" stroke-width="1.5"/>
<line x1="430.2" y1="90.7" x2="436.1" y2="90.7" stroke="#000" stroke-width="1.5"/>
<line x1="430.2" y1="63.8" x2="436.1" y2="63.8" stroke="#000" stroke-width="1.5"/>
<line x1="430.2" y1="36.9" x2="436.1" y2="36.9" stroke="#000" stroke-width="1.5"/>
<line x1="430.2" y1="10" x2="436.1" y2="10" stroke="#000" stroke-width="1.5"/>
<line x1="430.2" y1="211.75" x2="434" y2="211.75" stroke="#000" stroke-width="1.5"/>
<line x1="430.2" y1="184.85" x2="434" y2="184.85" stroke="#000" stroke-width="1.5"/>
<line x1="430.2" y1="157.95" x2="434" y2="157.95" stroke="#000" stroke-width="1.5"/>
<line x1="430.2" y1="131.05" x2="434" y2="131.05" stroke="#000" stroke-width="1.5"/>
<line x1="430.2" y1="104.15" x2="434" y2="104.15" stroke="#000" stroke-width="1.5"/>
<line x1="430.2" y1="77.25" x2="434" y2="77.25" stroke="#000" stroke-width="1.5"/>
<line x1="430.2" y1="50.35" x2="434" y2="50.35" stroke="#000" stroke-width="1.5"/>
<line x1="430.2" y1="23.45" x2="434" y2="23.45" stroke="#000" stroke-width="1.5"/>
<line x1="719.2" y1="225.2" x2="713.3" y2="225.2" stroke="#000" stroke-width="1.5"/>
<line x1="719.2" y1="198.3" x2="713.3" y2="198.3" stroke="#000" stroke-width="1.5"/>
<line x1="719.2" y1="171.4" x2="713.3" y2="171.4" stroke="#000" stroke-width="1.5"/>
<line x1="719.2" y1="144.5" x2="713.3" y2="144.5" stroke="#000" stroke-width="1.5"/>
<line x1="719.2" y1="117.6" x2="713.3" y2="117.6" stroke="#000" stroke-width="1.5"/>
<line x1="719.2" y1="90.7" x2="713.3" y2="90.7" stroke="#000" stroke-width="1.5"/>
<line x1="719.2" y1="63.8" x2="713.3" y2="63.8" stroke="#000" stroke-width="1.5"/>
<line x1="719.2" y1="36.9" x2="713.3" y2="36.9" stroke="#000" stroke-width="1.5"/>
<line x1="719.2" y1="10" x2="713.3" y2="10" stroke="#000" stroke-width="1.5"/>
<line x1="719.2" y1="211.75" x2="715.4" y2="211.75" stroke="#000" stroke-width="1.5"/>
<line x1="719.2" y1="184.85" x2="715.4" y2="184.85" stroke="#000" stroke-width="1.5"/>
<line x1="719.2" y1="157.95" x2="715.4" y2="157.95" stroke="#000" stroke-width="1.5"/>
<line x1="719.2" y1="131.05" x2="715.4" y2="131.05" stroke="#000" stroke-width="1.5"/>
<line x1="719.2" y1="104.15" x2="715.4" y2="104.15" stroke="#000" stroke-width="1.5"/>
<line x1="719.2" y1="77.25" x2="715.4" y2="77.25" stroke="#000" stroke-width="1.5"/>
<line x1="719.2" y1="50.35" x2="715.4" y2="50.35" stroke="#000" stroke-width="1.5"/>
<line x1="719.2" y1="23.45" x2="715.4" y2="23.45" stroke="#000" stroke-width="1.5"/>
<text x="423.8" y="230.6" font-size="16.5" text-anchor="end" font-weight="normal" font-style="normal" >0.0</text>
<text x="423.8" y="203.7" font-size="16.5" text-anchor="end" font-weight="normal" font-style="normal" >0.5</text>
<text x="423.8" y="176.8" font-size="16.5" text-anchor="end" font-weight="normal" font-style="normal" >1.0</text>
<text x="423.8" y="149.9" font-size="16.5" text-anchor="end" font-weight="normal" font-style="normal" >1.5</text>
<text x="423.8" y="123" font-size="16.5" text-anchor="end" font-weight="normal" font-style="normal" >2.0</text>
<text x="423.8" y="96.1" font-size="16.5" text-anchor="end" font-weight="normal" font-style="normal" >2.5</text>
<text x="423.8" y="69.2" font-size="16.5" text-anchor="end" font-weight="normal" font-style="normal" >3.0</text>
<text x="423.8" y="42.3" font-size="16.5" text-anchor="end" font-weight="normal" font-style="normal" >3.5</text>
<text x="423.8" y="15.4" font-size="16.5" text-anchor="end" font-weight="normal" font-style="normal" >4.0</text>
<text x="450.84" y="243.8" font-size="16.5" text-anchor="middle" font-weight="normal" font-style="normal" >-7</text>
<text x="492.13" y="243.8" font-size="16.5" text-anchor="middle" font-weight="normal" font-style="normal" >-6</text>
<text x="533.41" y="243.8" font-size="16.5" text-anchor="middle" font-weight="normal" font-style="normal" >-5</text>
<text x="574.7" y="243.8" font-size="16.5" text-anchor="middle" font-weight="normal" font-style="normal" >-4</text>
<text x="615.99" y="243.8" font-size="16.5" text-anchor="middle" font-weight="normal" font-style="normal" >-3</text>
<text x="657.27" y="243.8" font-size="16.5" text-anchor="middle" font-weight="normal" font-style="normal" >-2</text>
<text x="698.56" y="243.8" font-size="16.5" text-anchor="middle" font-weight="normal" font-style="normal" >-1</text>
<text x="543" y="257.2" font-size="16" font-weight="bold">lg <tspan font-style="italic">C</tspan><tspan font-size="9.5" dy="5.8">4-MUP</tspan></text>
<text transform="translate(396.6,115.3) rotate(-90)" font-size="17.3" text-anchor="middle" font-weight="bold">lg <tspan font-style="italic">I</tspan><tspan font-size="11" dy="4">m</tspan></text>
<text x="443.1" y="40.3" font-size="25" text-anchor="start" font-weight="bold" font-style="normal" >(b)</text>
<line x1="104.14" y1="468.26" x2="131.36" y2="417.92" stroke="#000" stroke-width="2.7" stroke-linecap="round"/>
<line x1="137.15" y1="408.96" x2="162.95" y2="375.22" stroke="#000" stroke-width="2.7" stroke-linecap="round"/>
<line x1="168.47" y1="366.12" x2="196.23" y2="306.88" stroke="#000" stroke-width="2.7" stroke-linecap="round"/>
<line x1="203.44" y1="304.1" x2="225.86" y2="313.47" stroke="#000" stroke-width="2.7" stroke-linecap="round"/>
<line x1="235.66" y1="317.78" x2="258.24" y2="328.21" stroke="#000" stroke-width="2.7" stroke-linecap="round"/>
<line x1="267.59" y1="333.36" x2="290.91" y2="348.5" stroke="#000" stroke-width="2.7" stroke-linecap="round"/>
<line x1="296.74" y1="356.59" x2="326.36" y2="471.57" stroke="#000" stroke-width="2.7" stroke-linecap="round"/>
<circle cx="101.6" cy="472.97" r="2.3" fill="#fff" stroke="#000" stroke-width="1.7"/>
<circle cx="133.9" cy="413.22" r="2.3" fill="#fff" stroke="#000" stroke-width="1.7"/>
<circle cx="166.2" cy="370.97" r="2.3" fill="#fff" stroke="#000" stroke-width="1.7"/>
<circle cx="198.5" cy="302.03" r="2.3" fill="#fff" stroke="#000" stroke-width="1.7"/>
<circle cx="230.8" cy="315.54" r="2.3" fill="#fff" stroke="#000" stroke-width="1.7"/>
<circle cx="263.1" cy="330.45" r="2.3" fill="#fff" stroke="#000" stroke-width="1.7"/>
<circle cx="295.4" cy="351.41" r="2.3" fill="#fff" stroke="#000" stroke-width="1.7"/>
<circle cx="327.7" cy="476.75" r="2.3" fill="#fff" stroke="#000" stroke-width="1.7"/>
<rect x="69.3" y="285.5" width="290.7" height="216.1" fill="none" stroke="#000" stroke-width="1.6"/>
<line x1="69.3" y1="501.6" x2="69.3" y2="496.8" stroke="#000" stroke-width="1.5"/>
<line x1="101.6" y1="501.6" x2="101.6" y2="496.8" stroke="#000" stroke-width="1.5"/>
<line x1="133.9" y1="501.6" x2="133.9" y2="496.8" stroke="#000" stroke-width="1.5"/>
<line x1="166.2" y1="501.6" x2="166.2" y2="496.8" stroke="#000" stroke-width="1.5"/>
<line x1="198.5" y1="501.6" x2="198.5" y2="496.8" stroke="#000" stroke-width="1.5"/>
<line x1="230.8" y1="501.6" x2="230.8" y2="496.8" stroke="#000" stroke-width="1.5"/>
<line x1="263.1" y1="501.6" x2="263.1" y2="496.8" stroke="#000" stroke-width="1.5"/>
<line x1="295.4" y1="501.6" x2="295.4" y2="496.8" stroke="#000" stroke-width="1.5"/>
<line x1="327.7" y1="501.6" x2="327.7" y2="496.8" stroke="#000" stroke-width="1.5"/>
<line x1="360" y1="501.6" x2="360" y2="496.8" stroke="#000" stroke-width="1.5"/>
<line x1="85.45" y1="501.6" x2="85.45" y2="499" stroke="#000" stroke-width="1.5"/>
<line x1="117.75" y1="501.6" x2="117.75" y2="499" stroke="#000" stroke-width="1.5"/>
<line x1="150.05" y1="501.6" x2="150.05" y2="499" stroke="#000" stroke-width="1.5"/>
<line x1="182.35" y1="501.6" x2="182.35" y2="499" stroke="#000" stroke-width="1.5"/>
<line x1="214.65" y1="501.6" x2="214.65" y2="499" stroke="#000" stroke-width="1.5"/>
<line x1="246.95" y1="501.6" x2="246.95" y2="499" stroke="#000" stroke-width="1.5"/>
<line x1="279.25" y1="501.6" x2="279.25" y2="499" stroke="#000" stroke-width="1.5"/>
<line x1="311.55" y1="501.6" x2="311.55" y2="499" stroke="#000" stroke-width="1.5"/>
<line x1="343.85" y1="501.6" x2="343.85" y2="499" stroke="#000" stroke-width="1.5"/>
<line x1="69.3" y1="285.5" x2="69.3" y2="290.3" stroke="#000" stroke-width="1.5"/>
<line x1="101.6" y1="285.5" x2="101.6" y2="290.3" stroke="#000" stroke-width="1.5"/>
<line x1="133.9" y1="285.5" x2="133.9" y2="290.3" stroke="#000" stroke-width="1.5"/>
<line x1="166.2" y1="285.5" x2="166.2" y2="290.3" stroke="#000" stroke-width="1.5"/>
<line x1="198.5" y1="285.5" x2="198.5" y2="290.3" stroke="#000" stroke-width="1.5"/>
<line x1="230.8" y1="285.5" x2="230.8" y2="290.3" stroke="#000" stroke-width="1.5"/>
<line x1="263.1" y1="285.5" x2="263.1" y2="290.3" stroke="#000" stroke-width="1.5"/>
<line x1="295.4" y1="285.5" x2="295.4" y2="290.3" stroke="#000" stroke-width="1.5"/>
<line x1="327.7" y1="285.5" x2="327.7" y2="290.3" stroke="#000" stroke-width="1.5"/>
<line x1="360" y1="285.5" x2="360" y2="290.3" stroke="#000" stroke-width="1.5"/>
<line x1="85.45" y1="285.5" x2="85.45" y2="288.1" stroke="#000" stroke-width="1.5"/>
<line x1="117.75" y1="285.5" x2="117.75" y2="288.1" stroke="#000" stroke-width="1.5"/>
<line x1="150.05" y1="285.5" x2="150.05" y2="288.1" stroke="#000" stroke-width="1.5"/>
<line x1="182.35" y1="285.5" x2="182.35" y2="288.1" stroke="#000" stroke-width="1.5"/>
<line x1="214.65" y1="285.5" x2="214.65" y2="288.1" stroke="#000" stroke-width="1.5"/>
<line x1="246.95" y1="285.5" x2="246.95" y2="288.1" stroke="#000" stroke-width="1.5"/>
<line x1="279.25" y1="285.5" x2="279.25" y2="288.1" stroke="#000" stroke-width="1.5"/>
<line x1="311.55" y1="285.5" x2="311.55" y2="288.1" stroke="#000" stroke-width="1.5"/>
<line x1="343.85" y1="285.5" x2="343.85" y2="288.1" stroke="#000" stroke-width="1.5"/>
<line x1="69.3" y1="479.99" x2="75.2" y2="479.99" stroke="#000" stroke-width="1.5"/>
<line x1="69.3" y1="452.98" x2="75.2" y2="452.98" stroke="#000" stroke-width="1.5"/>
<line x1="69.3" y1="425.97" x2="75.2" y2="425.97" stroke="#000" stroke-width="1.5"/>
<line x1="69.3" y1="398.95" x2="75.2" y2="398.95" stroke="#000" stroke-width="1.5"/>
<line x1="69.3" y1="371.94" x2="75.2" y2="371.94" stroke="#000" stroke-width="1.5"/>
<line x1="69.3" y1="344.93" x2="75.2" y2="344.93" stroke="#000" stroke-width="1.5"/>
<line x1="69.3" y1="317.91" x2="75.2" y2="317.91" stroke="#000" stroke-width="1.5"/>
<line x1="69.3" y1="290.9" x2="75.2" y2="290.9" stroke="#000" stroke-width="1.5"/>
<line x1="69.3" y1="493.5" x2="73.1" y2="493.5" stroke="#000" stroke-width="1.5"/>
<line x1="69.3" y1="466.48" x2="73.1" y2="466.48" stroke="#000" stroke-width="1.5"/>
<line x1="69.3" y1="439.47" x2="73.1" y2="439.47" stroke="#000" stroke-width="1.5"/>
<line x1="69.3" y1="412.46" x2="73.1" y2="412.46" stroke="#000" stroke-width="1.5"/>
<line x1="69.3" y1="385.45" x2="73.1" y2="385.45" stroke="#000" stroke-width="1.5"/>
<line x1="69.3" y1="358.43" x2="73.1" y2="358.43" stroke="#000" stroke-width="1.5"/>
<line x1="69.3" y1="331.42" x2="73.1" y2="331.42" stroke="#000" stroke-width="1.5"/>
<line x1="69.3" y1="304.41" x2="73.1" y2="304.41" stroke="#000" stroke-width="1.5"/>
<line x1="360" y1="479.99" x2="354.1" y2="479.99" stroke="#000" stroke-width="1.5"/>
<line x1="360" y1="452.98" x2="354.1" y2="452.98" stroke="#000" stroke-width="1.5"/>
<line x1="360" y1="425.97" x2="354.1" y2="425.97" stroke="#000" stroke-width="1.5"/>
<line x1="360" y1="398.95" x2="354.1" y2="398.95" stroke="#000" stroke-width="1.5"/>
<line x1="360" y1="371.94" x2="354.1" y2="371.94" stroke="#000" stroke-width="1.5"/>
<line x1="360" y1="344.93" x2="354.1" y2="344.93" stroke="#000" stroke-width="1.5"/>
<line x1="360" y1="317.91" x2="354.1" y2="317.91" stroke="#000" stroke-width="1.5"/>
<line x1="360" y1="290.9" x2="354.1" y2="290.9" stroke="#000" stroke-width="1.5"/>
<line x1="360" y1="493.5" x2="356.2" y2="493.5" stroke="#000" stroke-width="1.5"/>
<line x1="360" y1="466.48" x2="356.2" y2="466.48" stroke="#000" stroke-width="1.5"/>
<line x1="360" y1="439.47" x2="356.2" y2="439.47" stroke="#000" stroke-width="1.5"/>
<line x1="360" y1="412.46" x2="356.2" y2="412.46" stroke="#000" stroke-width="1.5"/>
<line x1="360" y1="385.45" x2="356.2" y2="385.45" stroke="#000" stroke-width="1.5"/>
<line x1="360" y1="358.43" x2="356.2" y2="358.43" stroke="#000" stroke-width="1.5"/>
<line x1="360" y1="331.42" x2="356.2" y2="331.42" stroke="#000" stroke-width="1.5"/>
<line x1="360" y1="304.41" x2="356.2" y2="304.41" stroke="#000" stroke-width="1.5"/>
<text x="62.7" y="485.39" font-size="16.5" text-anchor="end" font-weight="normal" font-style="normal" >600</text>
<text x="62.7" y="458.38" font-size="16.5" text-anchor="end" font-weight="normal" font-style="normal" >625</text>
<text x="62.7" y="431.37" font-size="16.5" text-anchor="end" font-weight="normal" font-style="normal" >650</text>
<text x="62.7" y="404.35" font-size="16.5" text-anchor="end" font-weight="normal" font-style="normal" >675</text>
<text x="62.7" y="377.34" font-size="16.5" text-anchor="end" font-weight="normal" font-style="normal" >700</text>
<text x="62.7" y="350.33" font-size="16.5" text-anchor="end" font-weight="normal" font-style="normal" >725</text>
<text x="62.7" y="323.31" font-size="16.5" text-anchor="end" font-weight="normal" font-style="normal" >750</text>
<text x="62.7" y="296.3" font-size="16.5" text-anchor="end" font-weight="normal" font-style="normal" >775</text>
<text x="69.3" y="519.6" font-size="16.5" text-anchor="middle" font-weight="normal" font-style="normal" >15</text>
<text x="101.6" y="519.6" font-size="16.5" text-anchor="middle" font-weight="normal" font-style="normal" >20</text>
<text x="133.9" y="519.6" font-size="16.5" text-anchor="middle" font-weight="normal" font-style="normal" >25</text>
<text x="166.2" y="519.6" font-size="16.5" text-anchor="middle" font-weight="normal" font-style="normal" >30</text>
<text x="198.5" y="519.6" font-size="16.5" text-anchor="middle" font-weight="normal" font-style="normal" >35</text>
<text x="230.8" y="519.6" font-size="16.5" text-anchor="middle" font-weight="normal" font-style="normal" >40</text>
<text x="263.1" y="519.6" font-size="16.5" text-anchor="middle" font-weight="normal" font-style="normal" >45</text>
<text x="295.4" y="519.6" font-size="16.5" text-anchor="middle" font-weight="normal" font-style="normal" >50</text>
<text x="327.7" y="519.6" font-size="16.5" text-anchor="middle" font-weight="normal" font-style="normal" >55</text>
<text x="360" y="519.6" font-size="16.5" text-anchor="middle" font-weight="normal" font-style="normal" >60</text>
<text x="186" y="535.8" font-size="16" font-weight="bold"><tspan font-style="italic">T</tspan><tspan font-size="10.5" dy="6">r</tspan><tspan dy="-6" dx="1.2"> (</tspan><tspan font-size="10" dy="-6" dx="0.8">o</tspan><tspan dy="6" dx="0.4">C)</tspan></text>
<text transform="translate(29,387) rotate(-90)" font-size="16.6" text-anchor="middle" font-weight="bold"><tspan font-style="italic">I</tspan><tspan font-size="11" dy="4">m</tspan><tspan dy="-4"> (A.U)</tspan></text>
<text x="81.2" y="316.2" font-size="24.3" text-anchor="start" font-weight="bold" font-style="normal" >(c)</text>
<polyline points="466.9,461.1 468.06,457.18 469.23,453.34 470.4,449.57 471.57,445.88 472.73,442.26 473.9,438.71 475.07,435.23 476.24,431.83 477.41,428.49 478.57,425.23 479.74,422.04 480.91,418.91 482.08,415.86 483.24,412.87 484.41,409.95 485.58,407.1 486.75,404.31 487.91,401.59 489.08,398.93 490.25,396.33 491.42,393.8 492.59,391.32 493.75,388.91 494.92,386.56 496.09,384.26 497.26,382.02 498.42,379.83 499.59,377.7 500.76,375.63 501.93,373.6 503.09,371.63 504.26,369.71 505.43,367.84 506.6,366.01 507.77,364.24 508.93,362.51 510.1,360.82 511.27,359.18 512.44,357.59 513.6,356.03 514.77,354.52 515.94,353.05 517.11,351.62 518.28,350.23 519.44,348.88 520.61,347.56 521.78,346.28 522.95,345.04 524.11,343.83 525.28,342.65 526.45,341.51 527.62,340.4 528.78,339.32 529.95,338.27 531.12,337.25 532.29,336.26 533.46,335.29 534.62,334.36 535.79,333.45 536.96,332.57 538.13,331.72 539.29,330.89 540.46,330.08 541.63,329.3 542.8,328.54 543.96,327.8 545.13,327.08 546.3,326.39 547.47,325.71 548.64,325.06 549.8,324.42 550.97,323.81 552.14,323.21 553.31,322.63 554.47,322.07 555.64,321.53 556.81,321 557.98,320.49 559.14,319.99 560.31,319.51 561.48,319.04 562.65,318.59 563.82,318.15 564.98,317.72 566.15,317.31 567.32,316.91 568.49,316.52 569.65,316.15 570.82,315.79 571.99,315.43 573.16,315.09 574.32,314.76 575.49,314.44 576.66,314.13 577.83,313.83 579,313.54 580.16,313.26 581.33,312.99 582.5,312.72 583.67,312.47 584.83,312.22 586,311.98 587.17,311.75 588.34,311.52 589.51,311.3 590.67,311.09 591.84,310.89 593.01,310.69 594.18,310.5 595.34,310.31 596.51,310.13 597.68,309.96 598.85,309.79 600.01,309.63 601.18,309.47 602.35,309.32 603.52,309.17 604.69,309.03 605.85,308.89 607.02,308.76 608.19,308.63 609.36,308.51 610.52,308.38 611.69,308.27 612.86,308.15 614.03,308.04 615.19,307.94 616.36,307.84 617.53,307.74 618.7,307.64 619.87,307.55 621.03,307.46 622.2,307.37 623.37,307.29 624.54,307.21 625.7,307.13 626.87,307.05 628.04,306.98 629.21,306.91 630.37,306.84 631.54,306.77 632.71,306.71 633.88,306.64 635.05,306.58 636.21,306.52 637.38,306.47 638.55,306.41 639.72,306.36 640.88,306.31 642.05,306.26 643.22,306.21 644.39,306.16 645.55,306.12 646.72,306.07 647.89,306.03 649.06,305.99 650.23,305.95 651.39,305.91 652.56,305.88 653.73,305.84 654.9,305.8 656.06,305.77 657.23,305.74 658.4,305.71 659.57,305.68 660.74,305.65 661.9,305.62 663.07,305.59 664.24,305.56 665.41,305.54 666.57,305.51 667.74,305.49 668.91,305.46 670.08,305.44 671.24,305.42 672.41,305.39 673.58,305.37 674.75,305.35 675.92,305.33 677.08,305.31 678.25,305.29 679.42,305.28 680.59,305.26 681.75,305.24 682.92,305.22 684.09,305.21 685.26,305.19 686.42,305.18 687.59,305.16 688.76,305.15 689.93,305.13 691.1,305.12 692.26,305.1 693.43,305.09 694.6,305.08 695.77,305.07 696.93,305.05 698.1,305.04 699.27,305.03" fill="none" stroke="#000" stroke-width="3.0" stroke-linejoin="round" stroke-linecap="round" />
<circle cx="466.9" cy="473.69" r="2.3" fill="#fff" stroke="#000" stroke-width="1.4"/>
<circle cx="477.96" cy="412.15" r="2.3" fill="#fff" stroke="#000" stroke-width="1.4"/>
<circle cx="489.03" cy="387.31" r="2.3" fill="#fff" stroke="#000" stroke-width="1.4"/>
<circle cx="500.09" cy="374.75" r="2.3" fill="#fff" stroke="#000" stroke-width="1.4"/>
<circle cx="511.16" cy="374.13" r="2.3" fill="#fff" stroke="#000" stroke-width="1.4"/>
<circle cx="522.22" cy="357.67" r="2.3" fill="#fff" stroke="#000" stroke-width="1.4"/>
<circle cx="533.29" cy="333.49" r="2.3" fill="#fff" stroke="#000" stroke-width="1.4"/>
<circle cx="544.35" cy="332.32" r="2.3" fill="#fff" stroke="#000" stroke-width="1.4"/>
<circle cx="555.42" cy="320.23" r="2.3" fill="#fff" stroke="#000" stroke-width="1.4"/>
<circle cx="566.48" cy="313.8" r="2.3" fill="#fff" stroke="#000" stroke-width="1.4"/>
<circle cx="577.55" cy="308.14" r="2.3" fill="#fff" stroke="#000" stroke-width="1.4"/>
<circle cx="588.62" cy="308.53" r="2.3" fill="#fff" stroke="#000" stroke-width="1.4"/>
<circle cx="599.68" cy="312.82" r="2.3" fill="#fff" stroke="#000" stroke-width="1.4"/>
<circle cx="610.75" cy="308.92" r="2.3" fill="#fff" stroke="#000" stroke-width="1.4"/>
<circle cx="621.81" cy="311.1" r="2.3" fill="#fff" stroke="#000" stroke-width="1.4"/>
<circle cx="632.88" cy="315.24" r="2.3" fill="#fff" stroke="#000" stroke-width="1.4"/>
<circle cx="643.94" cy="309.31" r="2.3" fill="#fff" stroke="#000" stroke-width="1.4"/>
<circle cx="655.01" cy="304.32" r="2.3" fill="#fff" stroke="#000" stroke-width="1.4"/>
<circle cx="666.07" cy="303.73" r="2.3" fill="#fff" stroke="#000" stroke-width="1.4"/>
<circle cx="677.14" cy="300.73" r="2.3" fill="#fff" stroke="#000" stroke-width="1.4"/>
<circle cx="688.2" cy="307.75" r="2.3" fill="#fff" stroke="#000" stroke-width="1.4"/>
<circle cx="699.27" cy="306.38" r="2.3" fill="#fff" stroke="#000" stroke-width="1.4"/>
<rect x="433.7" y="286.3" width="287.7" height="214.5" fill="none" stroke="#000" stroke-width="1.6"/>
<line x1="433.7" y1="500.8" x2="433.7" y2="496" stroke="#000" stroke-width="1.5"/>
<line x1="477.96" y1="500.8" x2="477.96" y2="496" stroke="#000" stroke-width="1.5"/>
<line x1="522.22" y1="500.8" x2="522.22" y2="496" stroke="#000" stroke-width="1.5"/>
<line x1="566.48" y1="500.8" x2="566.48" y2="496" stroke="#000" stroke-width="1.5"/>
<line x1="610.75" y1="500.8" x2="610.75" y2="496" stroke="#000" stroke-width="1.5"/>
<line x1="655.01" y1="500.8" x2="655.01" y2="496" stroke="#000" stroke-width="1.5"/>
<line x1="699.27" y1="500.8" x2="699.27" y2="496" stroke="#000" stroke-width="1.5"/>
<line x1="455.83" y1="500.8" x2="455.83" y2="498.2" stroke="#000" stroke-width="1.5"/>
<line x1="500.09" y1="500.8" x2="500.09" y2="498.2" stroke="#000" stroke-width="1.5"/>
<line x1="544.35" y1="500.8" x2="544.35" y2="498.2" stroke="#000" stroke-width="1.5"/>
<line x1="588.62" y1="500.8" x2="588.62" y2="498.2" stroke="#000" stroke-width="1.5"/>
<line x1="632.88" y1="500.8" x2="632.88" y2="498.2" stroke="#000" stroke-width="1.5"/>
<line x1="677.14" y1="500.8" x2="677.14" y2="498.2" stroke="#000" stroke-width="1.5"/>
<line x1="721.4" y1="500.8" x2="721.4" y2="498.2" stroke="#000" stroke-width="1.5"/>
<line x1="433.7" y1="286.3" x2="433.7" y2="291.1" stroke="#000" stroke-width="1.5"/>
<line x1="477.96" y1="286.3" x2="477.96" y2="291.1" stroke="#000" stroke-width="1.5"/>
<line x1="522.22" y1="286.3" x2="522.22" y2="291.1" stroke="#000" stroke-width="1.5"/>
<line x1="566.48" y1="286.3" x2="566.48" y2="291.1" stroke="#000" stroke-width="1.5"/>
<line x1="610.75" y1="286.3" x2="610.75" y2="291.1" stroke="#000" stroke-width="1.5"/>
<line x1="655.01" y1="286.3" x2="655.01" y2="291.1" stroke="#000" stroke-width="1.5"/>
<line x1="699.27" y1="286.3" x2="699.27" y2="291.1" stroke="#000" stroke-width="1.5"/>
<line x1="455.83" y1="286.3" x2="455.83" y2="288.9" stroke="#000" stroke-width="1.5"/>
<line x1="500.09" y1="286.3" x2="500.09" y2="288.9" stroke="#000" stroke-width="1.5"/>
<line x1="544.35" y1="286.3" x2="544.35" y2="288.9" stroke="#000" stroke-width="1.5"/>
<line x1="588.62" y1="286.3" x2="588.62" y2="288.9" stroke="#000" stroke-width="1.5"/>
<line x1="632.88" y1="286.3" x2="632.88" y2="288.9" stroke="#000" stroke-width="1.5"/>
<line x1="677.14" y1="286.3" x2="677.14" y2="288.9" stroke="#000" stroke-width="1.5"/>
<line x1="721.4" y1="286.3" x2="721.4" y2="288.9" stroke="#000" stroke-width="1.5"/>
<line x1="433.7" y1="481.3" x2="439.6" y2="481.3" stroke="#000" stroke-width="1.5"/>
<line x1="433.7" y1="442.3" x2="439.6" y2="442.3" stroke="#000" stroke-width="1.5"/>
<line x1="433.7" y1="403.3" x2="439.6" y2="403.3" stroke="#000" stroke-width="1.5"/>
<line x1="433.7" y1="364.3" x2="439.6" y2="364.3" stroke="#000" stroke-width="1.5"/>
<line x1="433.7" y1="325.3" x2="439.6" y2="325.3" stroke="#000" stroke-width="1.5"/>
<line x1="433.7" y1="286.3" x2="439.6" y2="286.3" stroke="#000" stroke-width="1.5"/>
<line x1="433.7" y1="500.8" x2="437.5" y2="500.8" stroke="#000" stroke-width="1.5"/>
<line x1="433.7" y1="461.8" x2="437.5" y2="461.8" stroke="#000" stroke-width="1.5"/>
<line x1="433.7" y1="422.8" x2="437.5" y2="422.8" stroke="#000" stroke-width="1.5"/>
<line x1="433.7" y1="383.8" x2="437.5" y2="383.8" stroke="#000" stroke-width="1.5"/>
<line x1="433.7" y1="344.8" x2="437.5" y2="344.8" stroke="#000" stroke-width="1.5"/>
<line x1="433.7" y1="305.8" x2="437.5" y2="305.8" stroke="#000" stroke-width="1.5"/>
<line x1="721.4" y1="481.3" x2="715.5" y2="481.3" stroke="#000" stroke-width="1.5"/>
<line x1="721.4" y1="442.3" x2="715.5" y2="442.3" stroke="#000" stroke-width="1.5"/>
<line x1="721.4" y1="403.3" x2="715.5" y2="403.3" stroke="#000" stroke-width="1.5"/>
<line x1="721.4" y1="364.3" x2="715.5" y2="364.3" stroke="#000" stroke-width="1.5"/>
<line x1="721.4" y1="325.3" x2="715.5" y2="325.3" stroke="#000" stroke-width="1.5"/>
<line x1="721.4" y1="286.3" x2="715.5" y2="286.3" stroke="#000" stroke-width="1.5"/>
<line x1="721.4" y1="500.8" x2="717.6" y2="500.8" stroke="#000" stroke-width="1.5"/>
<line x1="721.4" y1="461.8" x2="717.6" y2="461.8" stroke="#000" stroke-width="1.5"/>
<line x1="721.4" y1="422.8" x2="717.6" y2="422.8" stroke="#000" stroke-width="1.5"/>
<line x1="721.4" y1="383.8" x2="717.6" y2="383.8" stroke="#000" stroke-width="1.5"/>
<line x1="721.4" y1="344.8" x2="717.6" y2="344.8" stroke="#000" stroke-width="1.5"/>
<line x1="721.4" y1="305.8" x2="717.6" y2="305.8" stroke="#000" stroke-width="1.5"/>
<text x="427.2" y="486.7" font-size="16.5" text-anchor="end" font-weight="normal" font-style="normal" >600</text>
<text x="427.2" y="447.7" font-size="16.5" text-anchor="end" font-weight="normal" font-style="normal" >700</text>
<text x="427.2" y="408.7" font-size="16.5" text-anchor="end" font-weight="normal" font-style="normal" >800</text>
<text x="427.2" y="369.7" font-size="16.5" text-anchor="end" font-weight="normal" font-style="normal" >900</text>
<text x="427.2" y="330.7" font-size="16.5" text-anchor="end" font-weight="normal" font-style="normal" >1000</text>
<text x="427.2" y="291.7" font-size="16.5" text-anchor="end" font-weight="normal" font-style="normal" >1100</text>
<text x="433.7" y="519.6" font-size="16.5" text-anchor="middle" font-weight="normal" font-style="normal" >0</text>
<text x="477.96" y="519.6" font-size="16.5" text-anchor="middle" font-weight="normal" font-style="normal" >20</text>
<text x="522.22" y="519.6" font-size="16.5" text-anchor="middle" font-weight="normal" font-style="normal" >40</text>
<text x="566.48" y="519.6" font-size="16.5" text-anchor="middle" font-weight="normal" font-style="normal" >60</text>
<text x="610.75" y="519.6" font-size="16.5" text-anchor="middle" font-weight="normal" font-style="normal" >80</text>
<text x="655.01" y="519.6" font-size="16.5" text-anchor="middle" font-weight="normal" font-style="normal" >100</text>
<text x="699.27" y="519.6" font-size="16.5" text-anchor="middle" font-weight="normal" font-style="normal" >120</text>
<text x="550.5" y="535" font-size="16" font-weight="bold"><tspan font-style="italic">t</tspan><tspan font-size="13" dy="6.5">r</tspan><tspan dy="-6.5" dx="2.6"> (min)</tspan></text>
<text transform="translate(392.2,391.8) rotate(-90)" font-size="16.6" text-anchor="middle" font-weight="bold"><tspan font-style="italic">I</tspan><tspan font-size="11" dy="4">m</tspan><tspan dy="-4"> (A.U.)</tspan></text>
<text x="447.3" y="319.3" font-size="24.5" text-anchor="start" font-weight="bold" font-style="normal" >(d)</text>
</svg>
</body></html>
